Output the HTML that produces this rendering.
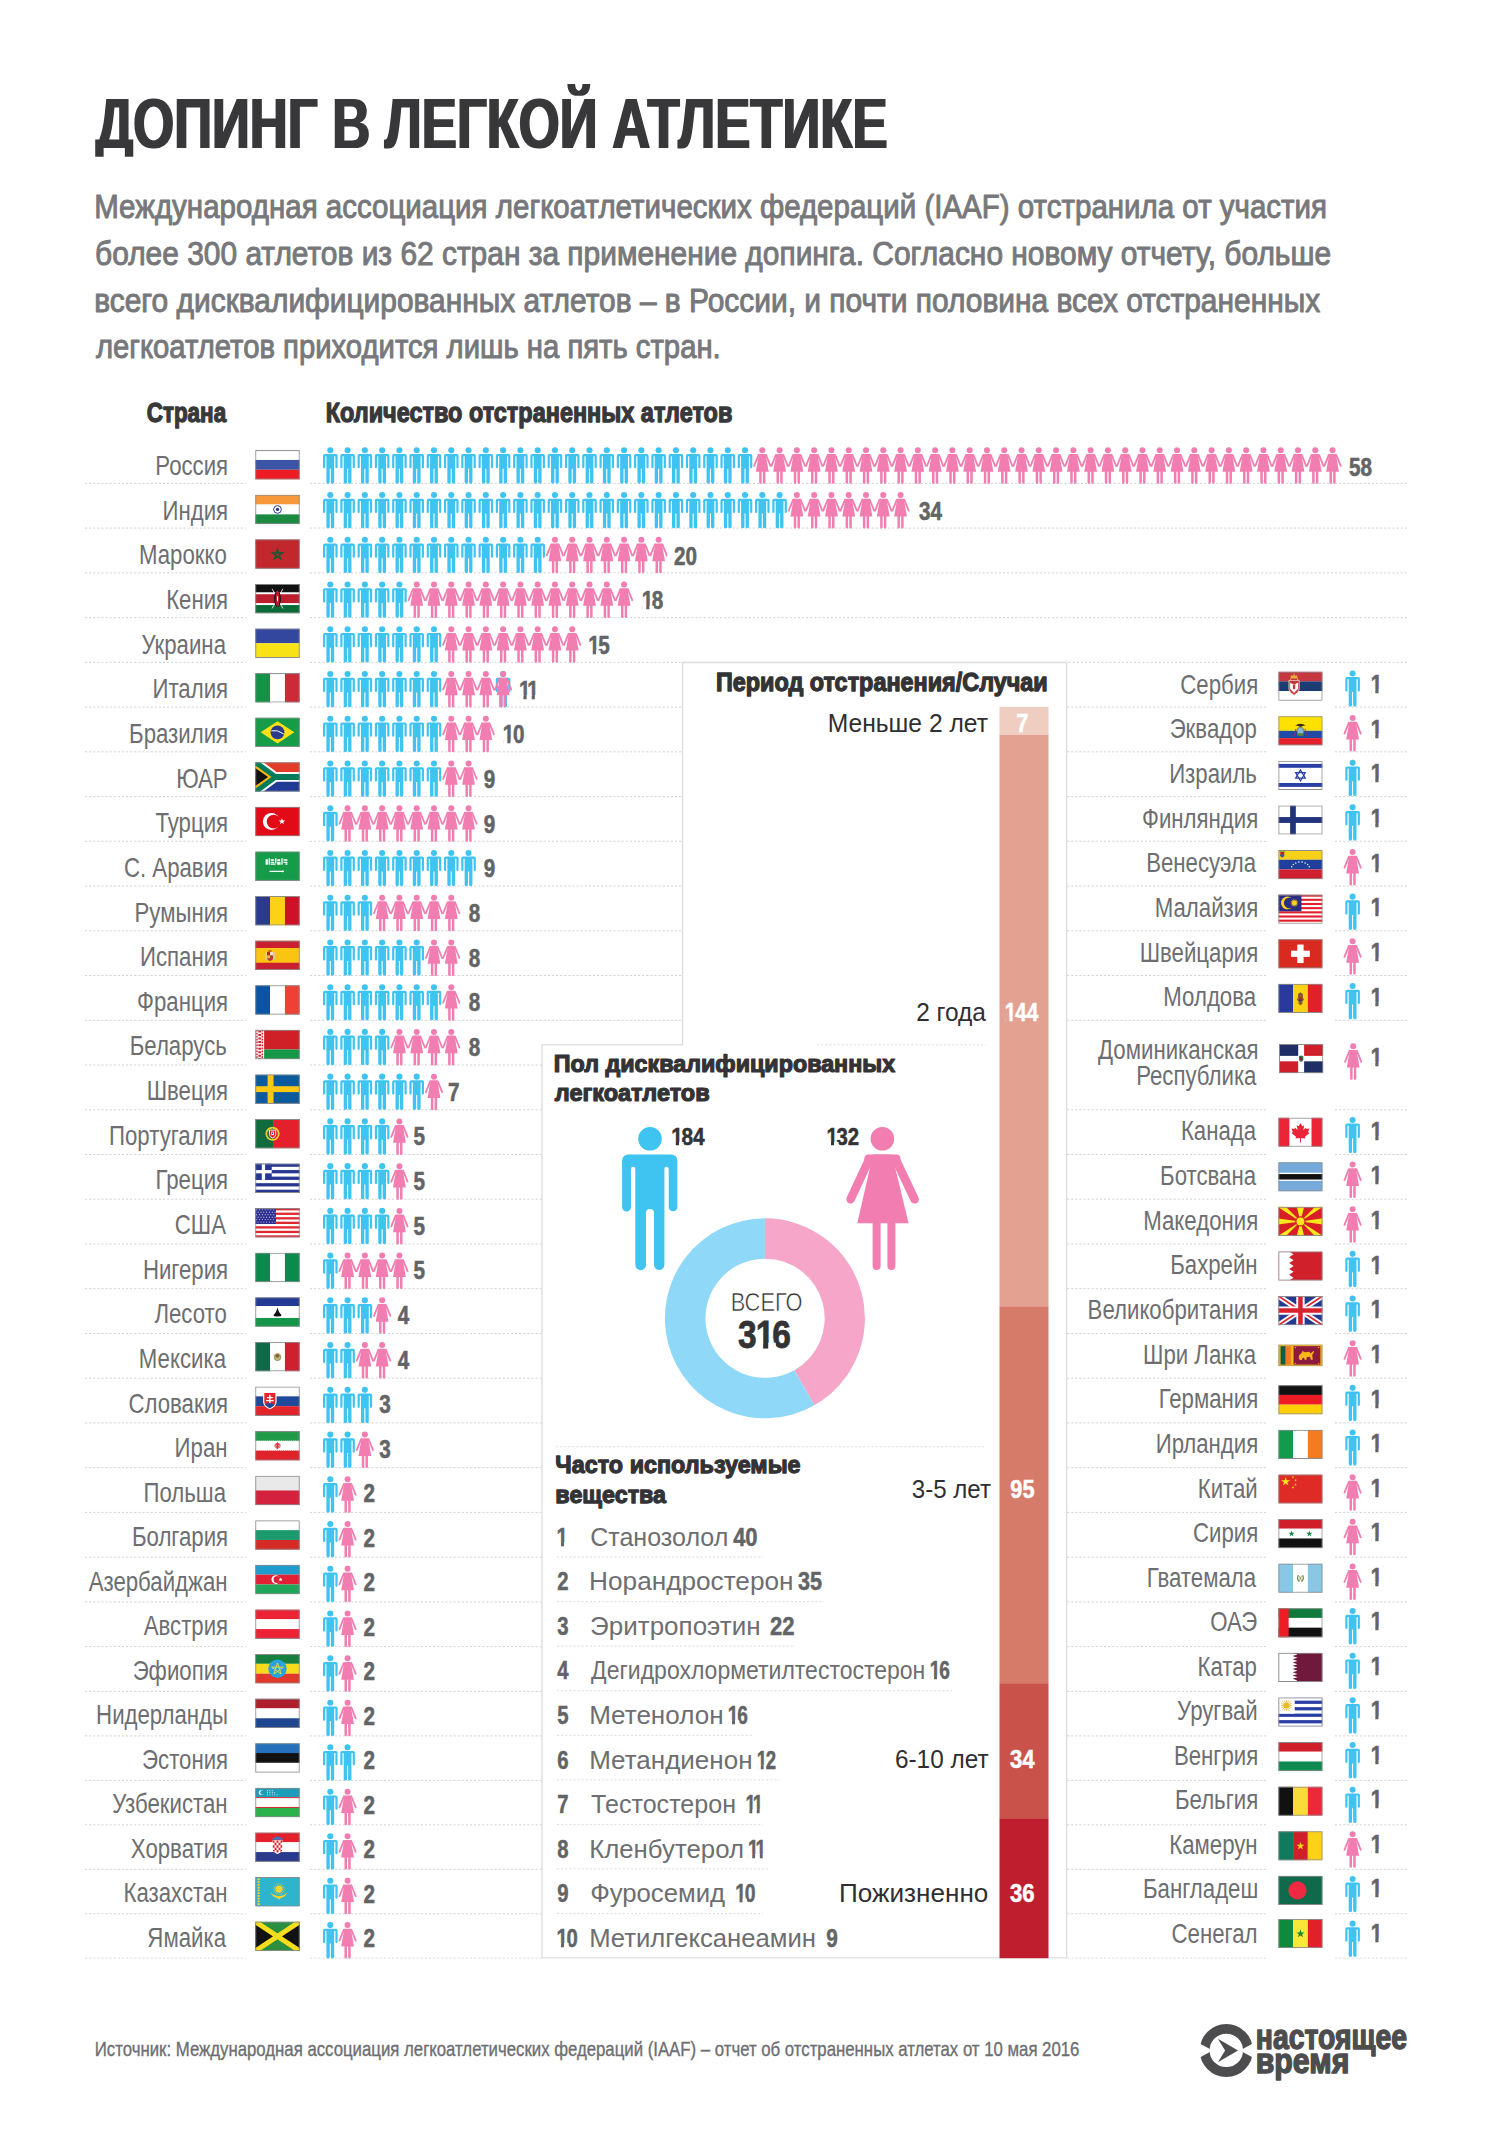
<!DOCTYPE html>
<html lang="ru"><head><meta charset="utf-8"><title>Допинг в легкой атлетике</title>
<style>html,body{margin:0;padding:0;background:#fff}svg{display:block}text{font-family:'Liberation Sans', sans-serif}</style></head>
<body><svg width="1493" height="2135" viewBox="0 0 1493 2135">
<defs><clipPath id="c0"><path clip-rule="evenodd" d="M-26.3 -31.6H78.9V10.5H-26.3ZM0.00 -3.68H5.05V1.32H0.00ZM9.02 -3.68H14.99V1.32H9.02Z"/></clipPath><clipPath id="c1"><path clip-rule="evenodd" d="M-26.3 -31.6H78.9V10.5H-26.3ZM0.00 -3.68H5.05V1.32H0.00ZM9.02 -3.68H14.99V1.32H9.02Z"/></clipPath><clipPath id="c2"><path clip-rule="evenodd" d="M-26.3 -31.6H78.9V10.5H-26.3ZM0.00 -3.68H5.05V1.32H0.00ZM9.02 -3.68H15.57V1.32H9.02ZM19.54 -3.68H26.04V1.32H19.54Z"/></clipPath><clipPath id="c3"><path clip-rule="evenodd" d="M-26.3 -31.6H78.9V10.5H-26.3ZM0.00 -3.68H5.05V1.32H0.00ZM9.02 -3.68H14.99V1.32H9.02Z"/></clipPath><clipPath id="c4"><path clip-rule="evenodd" d="M-25.8 -31.0H103.2V10.3H-25.8ZM0.00 -3.61H4.95V1.29H0.00ZM8.85 -3.61H14.71V1.29H8.85Z"/></clipPath><clipPath id="c5"><path clip-rule="evenodd" d="M-23.5 -28.2H94.0V9.4H-23.5ZM0.00 -3.29H4.51V1.18H0.00ZM8.06 -3.29H13.39V1.18H8.06Z"/></clipPath><clipPath id="c6"><path clip-rule="evenodd" d="M-23.5 -28.2H94.0V9.4H-23.5ZM0.00 -3.29H4.51V1.18H0.00ZM8.06 -3.29H13.39V1.18H8.06Z"/></clipPath><clipPath id="c7"><path clip-rule="evenodd" d="M-39.0 -46.8H156.0V15.6H-39.0ZM21.69 -5.46H29.18V1.95H21.69ZM35.07 -5.46H43.92V1.95H35.07Z"/></clipPath><clipPath id="c8"><path clip-rule="evenodd" d="M-26.0 -31.2H52.0V10.4H-26.0ZM0.00 -3.64H4.99V1.30H0.00ZM8.92 -3.64H15.34V1.30H8.92Z"/></clipPath><clipPath id="c9"><path clip-rule="evenodd" d="M-26.0 -31.2H78.0V10.4H-26.0ZM0.00 -3.64H4.99V1.30H0.00ZM8.92 -3.64H14.82V1.30H8.92Z"/></clipPath><clipPath id="c10"><path clip-rule="evenodd" d="M-26.0 -31.2H78.0V10.4H-26.0ZM0.00 -3.64H4.99V1.30H0.00ZM8.92 -3.64H12.74V1.30H8.92Z"/></clipPath><clipPath id="c11"><path clip-rule="evenodd" d="M-26.0 -31.2H78.0V10.4H-26.0ZM0.00 -3.64H4.99V1.30H0.00ZM8.92 -3.64H15.39V1.30H8.92ZM19.32 -3.64H25.74V1.30H19.32Z"/></clipPath><clipPath id="c12"><path clip-rule="evenodd" d="M-26.0 -31.2H78.0V10.4H-26.0ZM0.00 -3.64H4.99V1.30H0.00ZM8.92 -3.64H14.82V1.30H8.92Z"/></clipPath><clipPath id="c13"><path clip-rule="evenodd" d="M-26.3 -31.6H52.6V10.5H-26.3ZM0.00 -3.68H5.05V1.32H0.00ZM9.02 -3.68H15.52V1.32H9.02Z"/></clipPath></defs>
<clipPath id="tclip"><rect x="0" y="60" width="1493" height="96.8"/></clipPath><g clip-path="url(#tclip)">
<text transform="translate(95.80 148.10) scale(0.7572 1)" font-size="69.5" font-weight="bold" fill="#38383a" filter="url(#dil1)">ДОПИНГ В ЛЕГКОЙ АТЛЕТИКЕ</text>
</g>
<text transform="translate(94.19 218.30) scale(0.8729 1)" font-size="33.8" fill="#77787b" stroke="#77787b" stroke-width="1" stroke-linejoin="round">Международная ассоциация легкоатлетических федераций (IAAF) отстранила от участия</text>
<text transform="translate(95.06 265.00) scale(0.8850 1)" font-size="33.8" fill="#77787b" stroke="#77787b" stroke-width="1" stroke-linejoin="round">более 300 атлетов из 62 стран за применение допинга. Согласно новому отчету, больше</text>
<text transform="translate(94.17 311.70) scale(0.8856 1)" font-size="33.8" fill="#77787b" stroke="#77787b" stroke-width="1" stroke-linejoin="round">всего дисквалифицированных атлетов – в России, и почти половина всех отстраненных</text>
<text transform="translate(95.93 358.40) scale(0.8656 1)" font-size="33.8" fill="#77787b" stroke="#77787b" stroke-width="1" stroke-linejoin="round">легкоатлетов приходится лишь на пять стран.</text>
<text transform="translate(146.72 422.00) scale(0.8133 1)" font-size="27.6" font-weight="bold" fill="#38383a" stroke="#38383a" stroke-width="1.3" stroke-linejoin="round">Страна</text>
<text transform="translate(325.70 422.00) scale(0.8498 1)" font-size="27.6" font-weight="bold" fill="#38383a" stroke="#38383a" stroke-width="1.3" stroke-linejoin="round">Количество отстраненных атлетов</text>
<defs><filter id="dil1" x="-2%" y="-20%" width="104%" height="140%"><feMorphology operator="dilate" radius="1 0"/></filter><filter id="dil2" x="-2%" y="-20%" width="104%" height="140%"><feMorphology operator="dilate" radius="2 0"/></filter><g id="m" fill="#3fc4f1"><circle cx="0" cy="3.05" r="3.05"/><path d="M-7.3 8.4A1.7 1.7 0 0 1-5.6 6.7H5.6A1.7 1.7 0 0 1 7.3 8.4V20A1.1 1.1 0 0 1 5.1 20V8.9H3.9V34.7A1.675 1.675 0 0 1 .55 34.7V21.5H-.55V34.7A1.675 1.675 0 0 1-3.9 34.7V8.9H-5.1V20A1.1 1.1 0 0 1-7.3 20Z"/></g><g id="w" fill="#f27db0" stroke="#f27db0"><circle cx="0" cy="3.05" r="3" stroke="none"/><path d="M-3.7 7.6L-8.15 18.6M3.7 7.6L8.15 18.6" stroke-width="1.8" stroke-linecap="round" fill="none"/><path d="M-3.3 6.7H3.3L6.4 24.4H3.1V35.3A1.25 1.25 0 0 1 .6 35.3V24.4H-.6V35.3A1.25 1.25 0 0 1-3.1 35.3V24.4H-6.4Z" stroke="none"/></g></defs>
<path d="M85.0 483.4H246.0" stroke="#d2d3d5" stroke-width="1" stroke-dasharray="2.2 1.9"/>
<path d="M310.0 483.4H1408.5" stroke="#d2d3d5" stroke-width="1" stroke-dasharray="2.2 1.9"/>
<path d="M85.0 528.1H246.0" stroke="#d2d3d5" stroke-width="1" stroke-dasharray="2.2 1.9"/>
<path d="M310.0 528.1H1408.5" stroke="#d2d3d5" stroke-width="1" stroke-dasharray="2.2 1.9"/>
<path d="M85.0 572.9H246.0" stroke="#d2d3d5" stroke-width="1" stroke-dasharray="2.2 1.9"/>
<path d="M310.0 572.9H1408.5" stroke="#d2d3d5" stroke-width="1" stroke-dasharray="2.2 1.9"/>
<path d="M85.0 617.6H246.0" stroke="#d2d3d5" stroke-width="1" stroke-dasharray="2.2 1.9"/>
<path d="M310.0 617.6H1408.5" stroke="#d2d3d5" stroke-width="1" stroke-dasharray="2.2 1.9"/>
<path d="M85.0 662.4H246.0" stroke="#d2d3d5" stroke-width="1" stroke-dasharray="2.2 1.9"/>
<path d="M310.0 662.4H1408.5" stroke="#d2d3d5" stroke-width="1" stroke-dasharray="2.2 1.9"/>
<path d="M85.0 707.1H246.0" stroke="#d2d3d5" stroke-width="1" stroke-dasharray="2.2 1.9"/>
<path d="M310.0 707.1H682.0" stroke="#d2d3d5" stroke-width="1" stroke-dasharray="2.2 1.9"/>
<path d="M1067.0 707.1H1266.3" stroke="#d2d3d5" stroke-width="1" stroke-dasharray="2.2 1.9"/>
<path d="M1335.0 707.1H1408.5" stroke="#d2d3d5" stroke-width="1" stroke-dasharray="2.2 1.9"/>
<path d="M85.0 751.8H246.0" stroke="#d2d3d5" stroke-width="1" stroke-dasharray="2.2 1.9"/>
<path d="M310.0 751.8H682.0" stroke="#d2d3d5" stroke-width="1" stroke-dasharray="2.2 1.9"/>
<path d="M1067.0 751.8H1266.3" stroke="#d2d3d5" stroke-width="1" stroke-dasharray="2.2 1.9"/>
<path d="M1335.0 751.8H1408.5" stroke="#d2d3d5" stroke-width="1" stroke-dasharray="2.2 1.9"/>
<path d="M85.0 796.6H246.0" stroke="#d2d3d5" stroke-width="1" stroke-dasharray="2.2 1.9"/>
<path d="M310.0 796.6H682.0" stroke="#d2d3d5" stroke-width="1" stroke-dasharray="2.2 1.9"/>
<path d="M1067.0 796.6H1266.3" stroke="#d2d3d5" stroke-width="1" stroke-dasharray="2.2 1.9"/>
<path d="M1335.0 796.6H1408.5" stroke="#d2d3d5" stroke-width="1" stroke-dasharray="2.2 1.9"/>
<path d="M85.0 841.3H246.0" stroke="#d2d3d5" stroke-width="1" stroke-dasharray="2.2 1.9"/>
<path d="M310.0 841.3H682.0" stroke="#d2d3d5" stroke-width="1" stroke-dasharray="2.2 1.9"/>
<path d="M1067.0 841.3H1266.3" stroke="#d2d3d5" stroke-width="1" stroke-dasharray="2.2 1.9"/>
<path d="M1335.0 841.3H1408.5" stroke="#d2d3d5" stroke-width="1" stroke-dasharray="2.2 1.9"/>
<path d="M85.0 886.1H246.0" stroke="#d2d3d5" stroke-width="1" stroke-dasharray="2.2 1.9"/>
<path d="M310.0 886.1H682.0" stroke="#d2d3d5" stroke-width="1" stroke-dasharray="2.2 1.9"/>
<path d="M1067.0 886.1H1266.3" stroke="#d2d3d5" stroke-width="1" stroke-dasharray="2.2 1.9"/>
<path d="M1335.0 886.1H1408.5" stroke="#d2d3d5" stroke-width="1" stroke-dasharray="2.2 1.9"/>
<path d="M85.0 930.8H246.0" stroke="#d2d3d5" stroke-width="1" stroke-dasharray="2.2 1.9"/>
<path d="M310.0 930.8H682.0" stroke="#d2d3d5" stroke-width="1" stroke-dasharray="2.2 1.9"/>
<path d="M1067.0 930.8H1266.3" stroke="#d2d3d5" stroke-width="1" stroke-dasharray="2.2 1.9"/>
<path d="M1335.0 930.8H1408.5" stroke="#d2d3d5" stroke-width="1" stroke-dasharray="2.2 1.9"/>
<path d="M85.0 975.5H246.0" stroke="#d2d3d5" stroke-width="1" stroke-dasharray="2.2 1.9"/>
<path d="M310.0 975.5H682.0" stroke="#d2d3d5" stroke-width="1" stroke-dasharray="2.2 1.9"/>
<path d="M1067.0 975.5H1266.3" stroke="#d2d3d5" stroke-width="1" stroke-dasharray="2.2 1.9"/>
<path d="M1335.0 975.5H1408.5" stroke="#d2d3d5" stroke-width="1" stroke-dasharray="2.2 1.9"/>
<path d="M85.0 1020.3H246.0" stroke="#d2d3d5" stroke-width="1" stroke-dasharray="2.2 1.9"/>
<path d="M310.0 1020.3H682.0" stroke="#d2d3d5" stroke-width="1" stroke-dasharray="2.2 1.9"/>
<path d="M1067.0 1020.3H1266.3" stroke="#d2d3d5" stroke-width="1" stroke-dasharray="2.2 1.9"/>
<path d="M1335.0 1020.3H1408.5" stroke="#d2d3d5" stroke-width="1" stroke-dasharray="2.2 1.9"/>
<path d="M85.0 1065.0H246.0" stroke="#d2d3d5" stroke-width="1" stroke-dasharray="2.2 1.9"/>
<path d="M310.0 1065.0H541.5" stroke="#d2d3d5" stroke-width="1" stroke-dasharray="2.2 1.9"/>
<path d="M85.0 1109.8H246.0" stroke="#d2d3d5" stroke-width="1" stroke-dasharray="2.2 1.9"/>
<path d="M310.0 1109.8H541.5" stroke="#d2d3d5" stroke-width="1" stroke-dasharray="2.2 1.9"/>
<path d="M1067.0 1109.8H1266.3" stroke="#d2d3d5" stroke-width="1" stroke-dasharray="2.2 1.9"/>
<path d="M1335.0 1109.8H1408.5" stroke="#d2d3d5" stroke-width="1" stroke-dasharray="2.2 1.9"/>
<path d="M85.0 1154.5H246.0" stroke="#d2d3d5" stroke-width="1" stroke-dasharray="2.2 1.9"/>
<path d="M310.0 1154.5H541.5" stroke="#d2d3d5" stroke-width="1" stroke-dasharray="2.2 1.9"/>
<path d="M1067.0 1154.5H1266.3" stroke="#d2d3d5" stroke-width="1" stroke-dasharray="2.2 1.9"/>
<path d="M1335.0 1154.5H1408.5" stroke="#d2d3d5" stroke-width="1" stroke-dasharray="2.2 1.9"/>
<path d="M85.0 1199.2H246.0" stroke="#d2d3d5" stroke-width="1" stroke-dasharray="2.2 1.9"/>
<path d="M310.0 1199.2H541.5" stroke="#d2d3d5" stroke-width="1" stroke-dasharray="2.2 1.9"/>
<path d="M1067.0 1199.2H1266.3" stroke="#d2d3d5" stroke-width="1" stroke-dasharray="2.2 1.9"/>
<path d="M1335.0 1199.2H1408.5" stroke="#d2d3d5" stroke-width="1" stroke-dasharray="2.2 1.9"/>
<path d="M85.0 1244.0H246.0" stroke="#d2d3d5" stroke-width="1" stroke-dasharray="2.2 1.9"/>
<path d="M310.0 1244.0H541.5" stroke="#d2d3d5" stroke-width="1" stroke-dasharray="2.2 1.9"/>
<path d="M1067.0 1244.0H1266.3" stroke="#d2d3d5" stroke-width="1" stroke-dasharray="2.2 1.9"/>
<path d="M1335.0 1244.0H1408.5" stroke="#d2d3d5" stroke-width="1" stroke-dasharray="2.2 1.9"/>
<path d="M85.0 1288.7H246.0" stroke="#d2d3d5" stroke-width="1" stroke-dasharray="2.2 1.9"/>
<path d="M310.0 1288.7H541.5" stroke="#d2d3d5" stroke-width="1" stroke-dasharray="2.2 1.9"/>
<path d="M1067.0 1288.7H1266.3" stroke="#d2d3d5" stroke-width="1" stroke-dasharray="2.2 1.9"/>
<path d="M1335.0 1288.7H1408.5" stroke="#d2d3d5" stroke-width="1" stroke-dasharray="2.2 1.9"/>
<path d="M85.0 1333.5H246.0" stroke="#d2d3d5" stroke-width="1" stroke-dasharray="2.2 1.9"/>
<path d="M310.0 1333.5H541.5" stroke="#d2d3d5" stroke-width="1" stroke-dasharray="2.2 1.9"/>
<path d="M1067.0 1333.5H1266.3" stroke="#d2d3d5" stroke-width="1" stroke-dasharray="2.2 1.9"/>
<path d="M1335.0 1333.5H1408.5" stroke="#d2d3d5" stroke-width="1" stroke-dasharray="2.2 1.9"/>
<path d="M85.0 1378.2H246.0" stroke="#d2d3d5" stroke-width="1" stroke-dasharray="2.2 1.9"/>
<path d="M310.0 1378.2H541.5" stroke="#d2d3d5" stroke-width="1" stroke-dasharray="2.2 1.9"/>
<path d="M1067.0 1378.2H1266.3" stroke="#d2d3d5" stroke-width="1" stroke-dasharray="2.2 1.9"/>
<path d="M1335.0 1378.2H1408.5" stroke="#d2d3d5" stroke-width="1" stroke-dasharray="2.2 1.9"/>
<path d="M85.0 1422.9H246.0" stroke="#d2d3d5" stroke-width="1" stroke-dasharray="2.2 1.9"/>
<path d="M310.0 1422.9H541.5" stroke="#d2d3d5" stroke-width="1" stroke-dasharray="2.2 1.9"/>
<path d="M1067.0 1422.9H1266.3" stroke="#d2d3d5" stroke-width="1" stroke-dasharray="2.2 1.9"/>
<path d="M1335.0 1422.9H1408.5" stroke="#d2d3d5" stroke-width="1" stroke-dasharray="2.2 1.9"/>
<path d="M85.0 1467.7H246.0" stroke="#d2d3d5" stroke-width="1" stroke-dasharray="2.2 1.9"/>
<path d="M310.0 1467.7H541.5" stroke="#d2d3d5" stroke-width="1" stroke-dasharray="2.2 1.9"/>
<path d="M1067.0 1467.7H1266.3" stroke="#d2d3d5" stroke-width="1" stroke-dasharray="2.2 1.9"/>
<path d="M1335.0 1467.7H1408.5" stroke="#d2d3d5" stroke-width="1" stroke-dasharray="2.2 1.9"/>
<path d="M85.0 1512.4H246.0" stroke="#d2d3d5" stroke-width="1" stroke-dasharray="2.2 1.9"/>
<path d="M310.0 1512.4H541.5" stroke="#d2d3d5" stroke-width="1" stroke-dasharray="2.2 1.9"/>
<path d="M1067.0 1512.4H1266.3" stroke="#d2d3d5" stroke-width="1" stroke-dasharray="2.2 1.9"/>
<path d="M1335.0 1512.4H1408.5" stroke="#d2d3d5" stroke-width="1" stroke-dasharray="2.2 1.9"/>
<path d="M85.0 1557.2H246.0" stroke="#d2d3d5" stroke-width="1" stroke-dasharray="2.2 1.9"/>
<path d="M310.0 1557.2H541.5" stroke="#d2d3d5" stroke-width="1" stroke-dasharray="2.2 1.9"/>
<path d="M1067.0 1557.2H1266.3" stroke="#d2d3d5" stroke-width="1" stroke-dasharray="2.2 1.9"/>
<path d="M1335.0 1557.2H1408.5" stroke="#d2d3d5" stroke-width="1" stroke-dasharray="2.2 1.9"/>
<path d="M85.0 1601.9H246.0" stroke="#d2d3d5" stroke-width="1" stroke-dasharray="2.2 1.9"/>
<path d="M310.0 1601.9H541.5" stroke="#d2d3d5" stroke-width="1" stroke-dasharray="2.2 1.9"/>
<path d="M1067.0 1601.9H1266.3" stroke="#d2d3d5" stroke-width="1" stroke-dasharray="2.2 1.9"/>
<path d="M1335.0 1601.9H1408.5" stroke="#d2d3d5" stroke-width="1" stroke-dasharray="2.2 1.9"/>
<path d="M85.0 1646.6H246.0" stroke="#d2d3d5" stroke-width="1" stroke-dasharray="2.2 1.9"/>
<path d="M310.0 1646.6H541.5" stroke="#d2d3d5" stroke-width="1" stroke-dasharray="2.2 1.9"/>
<path d="M1067.0 1646.6H1266.3" stroke="#d2d3d5" stroke-width="1" stroke-dasharray="2.2 1.9"/>
<path d="M1335.0 1646.6H1408.5" stroke="#d2d3d5" stroke-width="1" stroke-dasharray="2.2 1.9"/>
<path d="M85.0 1691.4H246.0" stroke="#d2d3d5" stroke-width="1" stroke-dasharray="2.2 1.9"/>
<path d="M310.0 1691.4H541.5" stroke="#d2d3d5" stroke-width="1" stroke-dasharray="2.2 1.9"/>
<path d="M1067.0 1691.4H1266.3" stroke="#d2d3d5" stroke-width="1" stroke-dasharray="2.2 1.9"/>
<path d="M1335.0 1691.4H1408.5" stroke="#d2d3d5" stroke-width="1" stroke-dasharray="2.2 1.9"/>
<path d="M85.0 1735.9H246.0" stroke="#d2d3d5" stroke-width="1" stroke-dasharray="2.2 1.9"/>
<path d="M310.0 1735.9H541.5" stroke="#d2d3d5" stroke-width="1" stroke-dasharray="2.2 1.9"/>
<path d="M1067.0 1735.9H1266.3" stroke="#d2d3d5" stroke-width="1" stroke-dasharray="2.2 1.9"/>
<path d="M1335.0 1735.9H1408.5" stroke="#d2d3d5" stroke-width="1" stroke-dasharray="2.2 1.9"/>
<path d="M85.0 1780.4H246.0" stroke="#d2d3d5" stroke-width="1" stroke-dasharray="2.2 1.9"/>
<path d="M310.0 1780.4H541.5" stroke="#d2d3d5" stroke-width="1" stroke-dasharray="2.2 1.9"/>
<path d="M1067.0 1780.4H1266.3" stroke="#d2d3d5" stroke-width="1" stroke-dasharray="2.2 1.9"/>
<path d="M1335.0 1780.4H1408.5" stroke="#d2d3d5" stroke-width="1" stroke-dasharray="2.2 1.9"/>
<path d="M85.0 1824.8H246.0" stroke="#d2d3d5" stroke-width="1" stroke-dasharray="2.2 1.9"/>
<path d="M310.0 1824.8H541.5" stroke="#d2d3d5" stroke-width="1" stroke-dasharray="2.2 1.9"/>
<path d="M1067.0 1824.8H1266.3" stroke="#d2d3d5" stroke-width="1" stroke-dasharray="2.2 1.9"/>
<path d="M1335.0 1824.8H1408.5" stroke="#d2d3d5" stroke-width="1" stroke-dasharray="2.2 1.9"/>
<path d="M85.0 1869.3H246.0" stroke="#d2d3d5" stroke-width="1" stroke-dasharray="2.2 1.9"/>
<path d="M310.0 1869.3H541.5" stroke="#d2d3d5" stroke-width="1" stroke-dasharray="2.2 1.9"/>
<path d="M1067.0 1869.3H1266.3" stroke="#d2d3d5" stroke-width="1" stroke-dasharray="2.2 1.9"/>
<path d="M1335.0 1869.3H1408.5" stroke="#d2d3d5" stroke-width="1" stroke-dasharray="2.2 1.9"/>
<path d="M85.0 1913.8H246.0" stroke="#d2d3d5" stroke-width="1" stroke-dasharray="2.2 1.9"/>
<path d="M310.0 1913.8H541.5" stroke="#d2d3d5" stroke-width="1" stroke-dasharray="2.2 1.9"/>
<path d="M1067.0 1913.8H1266.3" stroke="#d2d3d5" stroke-width="1" stroke-dasharray="2.2 1.9"/>
<path d="M1335.0 1913.8H1408.5" stroke="#d2d3d5" stroke-width="1" stroke-dasharray="2.2 1.9"/>
<path d="M85.0 1958.2H246.0" stroke="#dcddde" stroke-width="1" stroke-dasharray="2.2 1.9"/>
<path d="M310.0 1958.2H541.5" stroke="#dcddde" stroke-width="1" stroke-dasharray="2.2 1.9"/>
<path d="M1067.0 1958.2H1266.3" stroke="#dcddde" stroke-width="1" stroke-dasharray="2.2 1.9"/>
<path d="M1335.0 1958.2H1408.5" stroke="#dcddde" stroke-width="1" stroke-dasharray="2.2 1.9"/>
<text transform="translate(155.29 475.00) scale(0.8140 1)" font-size="27.3" fill="#6d6e71">Россия</text>
<svg x="255.2" y="450.1" width="44.6" height="29.5" viewBox="0 0 45 30" preserveAspectRatio="none"><rect x="0" y="0" width="45" height="10" fill="#fff"/><rect x="0" y="10" width="45" height="10" fill="#3b54a5"/><rect x="0" y="20" width="45" height="10" fill="#ed1c24"/><rect x=".5" y=".5" width="44" height="29" fill="none" stroke="#8c8c8e" stroke-width="1"/></svg>
<use href="#m" x="330.30" y="447.25"/><use href="#m" x="347.58" y="447.25"/><use href="#m" x="364.86" y="447.25"/><use href="#m" x="382.14" y="447.25"/><use href="#m" x="399.42" y="447.25"/><use href="#m" x="416.70" y="447.25"/><use href="#m" x="433.98" y="447.25"/><use href="#m" x="451.26" y="447.25"/><use href="#m" x="468.54" y="447.25"/><use href="#m" x="485.82" y="447.25"/><use href="#m" x="503.10" y="447.25"/><use href="#m" x="520.38" y="447.25"/><use href="#m" x="537.66" y="447.25"/><use href="#m" x="554.94" y="447.25"/><use href="#m" x="572.22" y="447.25"/><use href="#m" x="589.50" y="447.25"/><use href="#m" x="606.78" y="447.25"/><use href="#m" x="624.06" y="447.25"/><use href="#m" x="641.34" y="447.25"/><use href="#m" x="658.62" y="447.25"/><use href="#m" x="675.90" y="447.25"/><use href="#m" x="693.18" y="447.25"/><use href="#m" x="710.46" y="447.25"/><use href="#m" x="727.74" y="447.25"/><use href="#m" x="745.02" y="447.25"/><use href="#w" x="762.30" y="447.25"/><use href="#w" x="779.58" y="447.25"/><use href="#w" x="796.86" y="447.25"/><use href="#w" x="814.14" y="447.25"/><use href="#w" x="831.42" y="447.25"/><use href="#w" x="848.70" y="447.25"/><use href="#w" x="865.98" y="447.25"/><use href="#w" x="883.26" y="447.25"/><use href="#w" x="900.54" y="447.25"/><use href="#w" x="917.82" y="447.25"/><use href="#w" x="935.10" y="447.25"/><use href="#w" x="952.38" y="447.25"/><use href="#w" x="969.66" y="447.25"/><use href="#w" x="986.94" y="447.25"/><use href="#w" x="1004.22" y="447.25"/><use href="#w" x="1021.50" y="447.25"/><use href="#w" x="1038.78" y="447.25"/><use href="#w" x="1056.06" y="447.25"/><use href="#w" x="1073.34" y="447.25"/><use href="#w" x="1090.62" y="447.25"/><use href="#w" x="1107.90" y="447.25"/><use href="#w" x="1125.18" y="447.25"/><use href="#w" x="1142.46" y="447.25"/><use href="#w" x="1159.74" y="447.25"/><use href="#w" x="1177.02" y="447.25"/><use href="#w" x="1194.30" y="447.25"/><use href="#w" x="1211.58" y="447.25"/><use href="#w" x="1228.86" y="447.25"/><use href="#w" x="1246.14" y="447.25"/><use href="#w" x="1263.42" y="447.25"/><use href="#w" x="1280.70" y="447.25"/><use href="#w" x="1297.98" y="447.25"/><use href="#w" x="1315.26" y="447.25"/><use href="#w" x="1332.54" y="447.25"/>
<text transform="translate(1349.11 475.50) scale(0.7850 1)" font-size="26.3" font-weight="bold" fill="#636466" stroke="#636466" stroke-width="0.6">58</text>
<text transform="translate(162.50 519.65) scale(0.8140 1)" font-size="27.3" fill="#6d6e71">Индия</text>
<svg x="255.2" y="494.7" width="44.6" height="29.5" viewBox="0 0 45 30" preserveAspectRatio="none"><rect x="0" y="0" width="45" height="10" fill="#f7993b"/><rect x="0" y="10" width="45" height="10" fill="#fff"/><rect x="0" y="20" width="45" height="10" fill="#1a8a43"/><circle cx="22.5" cy="15" r="3.9" fill="none" stroke="#2b3990" stroke-width="1"/><circle cx="22.5" cy="15" r="1.7" fill="#2b3990"/><rect x=".5" y=".5" width="44" height="29" fill="none" stroke="#8c8c8e" stroke-width="1"/></svg>
<use href="#m" x="330.30" y="491.99"/><use href="#m" x="347.58" y="491.99"/><use href="#m" x="364.86" y="491.99"/><use href="#m" x="382.14" y="491.99"/><use href="#m" x="399.42" y="491.99"/><use href="#m" x="416.70" y="491.99"/><use href="#m" x="433.98" y="491.99"/><use href="#m" x="451.26" y="491.99"/><use href="#m" x="468.54" y="491.99"/><use href="#m" x="485.82" y="491.99"/><use href="#m" x="503.10" y="491.99"/><use href="#m" x="520.38" y="491.99"/><use href="#m" x="537.66" y="491.99"/><use href="#m" x="554.94" y="491.99"/><use href="#m" x="572.22" y="491.99"/><use href="#m" x="589.50" y="491.99"/><use href="#m" x="606.78" y="491.99"/><use href="#m" x="624.06" y="491.99"/><use href="#m" x="641.34" y="491.99"/><use href="#m" x="658.62" y="491.99"/><use href="#m" x="675.90" y="491.99"/><use href="#m" x="693.18" y="491.99"/><use href="#m" x="710.46" y="491.99"/><use href="#m" x="727.74" y="491.99"/><use href="#m" x="745.02" y="491.99"/><use href="#m" x="762.30" y="491.99"/><use href="#m" x="779.58" y="491.99"/><use href="#w" x="796.86" y="491.99"/><use href="#w" x="814.14" y="491.99"/><use href="#w" x="831.42" y="491.99"/><use href="#w" x="848.70" y="491.99"/><use href="#w" x="865.98" y="491.99"/><use href="#w" x="883.26" y="491.99"/><use href="#w" x="900.54" y="491.99"/>
<text transform="translate(919.11 520.15) scale(0.7850 1)" font-size="26.3" font-weight="bold" fill="#636466" stroke="#636466" stroke-width="0.6">34</text>
<text transform="translate(138.97 564.30) scale(0.8140 1)" font-size="27.3" fill="#6d6e71">Марокко</text>
<svg x="255.2" y="539.3" width="44.6" height="29.5" viewBox="0 0 45 30" preserveAspectRatio="none"><rect x="0" y="0" width="45" height="30" fill="#c1272d"/><polygon points="22.5,9.9 25.79,20.03 17.17,13.77 27.83,13.77 19.21,20.03" fill="none" stroke="#0b5b30" stroke-width="1.1"/><rect x=".5" y=".5" width="44" height="29" fill="none" stroke="#8c8c8e" stroke-width="1"/></svg>
<use href="#m" x="330.30" y="536.73"/><use href="#m" x="347.58" y="536.73"/><use href="#m" x="364.86" y="536.73"/><use href="#m" x="382.14" y="536.73"/><use href="#m" x="399.42" y="536.73"/><use href="#m" x="416.70" y="536.73"/><use href="#m" x="433.98" y="536.73"/><use href="#m" x="451.26" y="536.73"/><use href="#m" x="468.54" y="536.73"/><use href="#m" x="485.82" y="536.73"/><use href="#m" x="503.10" y="536.73"/><use href="#m" x="520.38" y="536.73"/><use href="#m" x="537.66" y="536.73"/><use href="#w" x="554.94" y="536.73"/><use href="#w" x="572.22" y="536.73"/><use href="#w" x="589.50" y="536.73"/><use href="#w" x="606.78" y="536.73"/><use href="#w" x="624.06" y="536.73"/><use href="#w" x="641.34" y="536.73"/><use href="#w" x="658.62" y="536.73"/>
<text transform="translate(674.01 564.80) scale(0.7850 1)" font-size="26.3" font-weight="bold" fill="#636466" stroke="#636466" stroke-width="0.6">20</text>
<text transform="translate(166.13 608.95) scale(0.8140 1)" font-size="27.3" fill="#6d6e71">Кения</text>
<svg x="255.2" y="583.9" width="44.6" height="29.5" viewBox="0 0 45 30" preserveAspectRatio="none"><rect x="0" y="0" width="45" height="30" fill="#fff"/><rect x="0" y="0" width="45" height="8.5" fill="#111"/><rect x="0" y="10.5" width="45" height="9" fill="#bb1f2d"/><rect x="0" y="21.5" width="45" height="8.5" fill="#0b6b37"/><path d="M17 5 L28 25 M28 5 L17 25" stroke="#fff" stroke-width=".8"/><ellipse cx="22.5" cy="15" rx="3.4" ry="8.6" fill="#111"/><ellipse cx="22.5" cy="15" rx="2" ry="8.4" fill="#bb1f2d"/><ellipse cx="22.5" cy="15" rx=".6" ry="3" fill="#fff"/><rect x=".5" y=".5" width="44" height="29" fill="none" stroke="#8c8c8e" stroke-width="1"/></svg>
<use href="#m" x="330.30" y="581.47"/><use href="#m" x="347.58" y="581.47"/><use href="#m" x="364.86" y="581.47"/><use href="#m" x="382.14" y="581.47"/><use href="#m" x="399.42" y="581.47"/><use href="#w" x="416.70" y="581.47"/><use href="#w" x="433.98" y="581.47"/><use href="#w" x="451.26" y="581.47"/><use href="#w" x="468.54" y="581.47"/><use href="#w" x="485.82" y="581.47"/><use href="#w" x="503.10" y="581.47"/><use href="#w" x="520.38" y="581.47"/><use href="#w" x="537.66" y="581.47"/><use href="#w" x="554.94" y="581.47"/><use href="#w" x="572.22" y="581.47"/><use href="#w" x="589.50" y="581.47"/><use href="#w" x="606.78" y="581.47"/><use href="#w" x="624.06" y="581.47"/>
<text transform="translate(642.31 609.45) scale(0.7850 1)" font-size="26.3" font-weight="bold" fill="#636466" stroke="#636466" stroke-width="0.6" clip-path="url(#c0)"><tspan dx="-0.79">1</tspan><tspan dx="-1.74">8</tspan></text>
<text transform="translate(141.44 653.60) scale(0.8140 1)" font-size="27.3" fill="#6d6e71">Украина</text>
<svg x="255.2" y="628.5" width="44.6" height="29.5" viewBox="0 0 45 30" preserveAspectRatio="none"><rect x="0" y="0" width="45" height="15" fill="#33479e"/><rect x="0" y="15" width="45" height="15" fill="#f6e215"/><rect x=".5" y=".5" width="44" height="29" fill="none" stroke="#8c8c8e" stroke-width="1"/></svg>
<use href="#m" x="330.30" y="626.21"/><use href="#m" x="347.58" y="626.21"/><use href="#m" x="364.86" y="626.21"/><use href="#m" x="382.14" y="626.21"/><use href="#m" x="399.42" y="626.21"/><use href="#m" x="416.70" y="626.21"/><use href="#m" x="433.98" y="626.21"/><use href="#w" x="451.26" y="626.21"/><use href="#w" x="468.54" y="626.21"/><use href="#w" x="485.82" y="626.21"/><use href="#w" x="503.10" y="626.21"/><use href="#w" x="520.38" y="626.21"/><use href="#w" x="537.66" y="626.21"/><use href="#w" x="554.94" y="626.21"/><use href="#w" x="572.22" y="626.21"/>
<text transform="translate(588.81 654.10) scale(0.7850 1)" font-size="26.3" font-weight="bold" fill="#636466" stroke="#636466" stroke-width="0.6" clip-path="url(#c1)"><tspan dx="-0.79">1</tspan><tspan dx="-1.74">5</tspan></text>
<text transform="translate(152.49 698.25) scale(0.8140 1)" font-size="27.3" fill="#6d6e71">Италия</text>
<svg x="255.2" y="673.1" width="44.6" height="29.5" viewBox="0 0 45 30" preserveAspectRatio="none"><rect x="0" y="0" width="15" height="30" fill="#139347"/><rect x="15" y="0" width="15" height="30" fill="#fff"/><rect x="30" y="0" width="15" height="30" fill="#cd2a37"/><rect x=".5" y=".5" width="44" height="29" fill="none" stroke="#8c8c8e" stroke-width="1"/></svg>
<use href="#m" x="330.30" y="670.95"/><use href="#m" x="347.58" y="670.95"/><use href="#m" x="364.86" y="670.95"/><use href="#m" x="382.14" y="670.95"/><use href="#m" x="399.42" y="670.95"/><use href="#m" x="416.70" y="670.95"/><use href="#m" x="433.98" y="670.95"/><use href="#m" x="503.10" y="670.95"/><use href="#w" x="451.26" y="670.95"/><use href="#w" x="468.54" y="670.95"/><use href="#w" x="485.82" y="670.95"/><use href="#w" x="503.10" y="670.95"/>
<text transform="translate(519.51 698.75) scale(0.7850 1)" font-size="26.3" font-weight="bold" fill="#636466" stroke="#636466" stroke-width="0.6" clip-path="url(#c2)"><tspan dx="-0.79">1</tspan><tspan dx="-4.11">1</tspan></text>
<text transform="translate(129.09 742.90) scale(0.8140 1)" font-size="27.3" fill="#6d6e71">Бразилия</text>
<svg x="255.2" y="717.6" width="44.6" height="29.5" viewBox="0 0 45 30" preserveAspectRatio="none"><rect x="0" y="0" width="45" height="30" fill="#169b49"/><polygon points="22.5,3.6 39.5,15 22.5,26.4 5.5,15" fill="#f8e015"/><circle cx="22.5" cy="15" r="7" fill="#2a3a8c"/><path d="M16.3 13.4 Q22.5 12 28.7 16.6" stroke="#fff" stroke-width="1" fill="none"/><rect x=".5" y=".5" width="44" height="29" fill="none" stroke="#8c8c8e" stroke-width="1"/></svg>
<use href="#m" x="330.30" y="715.69"/><use href="#m" x="347.58" y="715.69"/><use href="#m" x="364.86" y="715.69"/><use href="#m" x="382.14" y="715.69"/><use href="#m" x="399.42" y="715.69"/><use href="#m" x="416.70" y="715.69"/><use href="#m" x="433.98" y="715.69"/><use href="#w" x="451.26" y="715.69"/><use href="#w" x="468.54" y="715.69"/><use href="#w" x="485.82" y="715.69"/>
<text transform="translate(503.41 743.40) scale(0.7850 1)" font-size="26.3" font-weight="bold" fill="#636466" stroke="#636466" stroke-width="0.6" clip-path="url(#c3)"><tspan dx="-0.79">1</tspan><tspan dx="-1.74">0</tspan></text>
<text transform="translate(176.33 787.55) scale(0.8140 1)" font-size="27.3" fill="#6d6e71">ЮАР</text>
<svg x="255.2" y="762.2" width="44.6" height="29.5" viewBox="0 0 45 30" preserveAspectRatio="none"><rect x="0" y="0" width="45" height="15" fill="#e23d28"/><rect x="0" y="15" width="45" height="15" fill="#1e3a94"/><path d="M-2,-1.3 L20,15 L-2,31.3 M20,15 H46" stroke="#fff" stroke-width="10" fill="none"/><path d="M-2,-1.3 L20,15 L-2,31.3 M20,15 H46" stroke="#007c59" stroke-width="6" fill="none"/><polygon points="0,3 16.5,15 0,27" fill="#fcb514"/><polygon points="0,5.8 13,15 0,24.2" fill="#111"/><rect x=".5" y=".5" width="44" height="29" fill="none" stroke="#8c8c8e" stroke-width="1"/></svg>
<use href="#m" x="330.30" y="760.43"/><use href="#m" x="347.58" y="760.43"/><use href="#m" x="364.86" y="760.43"/><use href="#m" x="382.14" y="760.43"/><use href="#m" x="399.42" y="760.43"/><use href="#m" x="416.70" y="760.43"/><use href="#m" x="433.98" y="760.43"/><use href="#w" x="451.26" y="760.43"/><use href="#w" x="468.54" y="760.43"/>
<text transform="translate(483.81 788.05) scale(0.7850 1)" font-size="26.3" font-weight="bold" fill="#636466" stroke="#636466" stroke-width="0.6">9</text>
<text transform="translate(155.44 832.20) scale(0.8140 1)" font-size="27.3" fill="#6d6e71">Турция</text>
<svg x="255.2" y="806.8" width="44.6" height="29.5" viewBox="0 0 45 30" preserveAspectRatio="none"><rect x="0" y="0" width="45" height="30" fill="#e30a17"/><circle cx="16.3" cy="15" r="8.6" fill="#fff"/><circle cx="18.6" cy="15" r="7" fill="#e30a17"/><polygon points="30.33,13.92 28.27,15.41 29.06,17.83 27,16.34 24.94,17.83 25.73,15.41 23.67,13.92 26.21,13.92 27,11.5 27.79,13.92" fill="#fff"/><rect x=".5" y=".5" width="44" height="29" fill="none" stroke="#8c8c8e" stroke-width="1"/></svg>
<use href="#m" x="330.30" y="805.17"/><use href="#w" x="347.58" y="805.17"/><use href="#w" x="364.86" y="805.17"/><use href="#w" x="382.14" y="805.17"/><use href="#w" x="399.42" y="805.17"/><use href="#w" x="416.70" y="805.17"/><use href="#w" x="433.98" y="805.17"/><use href="#w" x="451.26" y="805.17"/><use href="#w" x="468.54" y="805.17"/>
<text transform="translate(483.81 832.70) scale(0.7850 1)" font-size="26.3" font-weight="bold" fill="#636466" stroke="#636466" stroke-width="0.6">9</text>
<text transform="translate(123.97 876.85) scale(0.8140 1)" font-size="27.3" fill="#6d6e71">С. Аравия</text>
<svg x="255.2" y="851.4" width="44.6" height="29.5" viewBox="0 0 45 30" preserveAspectRatio="none"><rect x="0" y="0" width="45" height="30" fill="#169b48"/><path d="M10.5 8h2.2v5.5h-2.2zM13.5 7h1.3v6.5h-1.3zM15.6 8h3.6v1.6h-3.6zM15.6 10.4h3.6v1.4h-3.6zM15.6 12.4h5v1.3h-5zM20 7h1.4v5h-1.4zM22.2 8h3v2h-3zM22.2 10.8h3.4v2.8h-3.4zM26.4 7h1.3v6.5h-1.3zM28.5 8h4v1.6h-4zM28.5 10.4h4v1.5h-4zM30.5 12h2v1.6h-2z" fill="#fff"/><path d="M14.5 20.3H29" stroke="#fff" stroke-width="1.2"/><path d="M27.5 19.3v2" stroke="#fff" stroke-width=".8"/><rect x=".5" y=".5" width="44" height="29" fill="none" stroke="#8c8c8e" stroke-width="1"/></svg>
<use href="#m" x="330.30" y="849.91"/><use href="#m" x="347.58" y="849.91"/><use href="#m" x="364.86" y="849.91"/><use href="#m" x="382.14" y="849.91"/><use href="#m" x="399.42" y="849.91"/><use href="#m" x="416.70" y="849.91"/><use href="#m" x="433.98" y="849.91"/><use href="#m" x="451.26" y="849.91"/><use href="#m" x="468.54" y="849.91"/>
<text transform="translate(483.81 877.35) scale(0.7850 1)" font-size="26.3" font-weight="bold" fill="#636466" stroke="#636466" stroke-width="0.6">9</text>
<text transform="translate(134.51 921.50) scale(0.8140 1)" font-size="27.3" fill="#6d6e71">Румыния</text>
<svg x="255.2" y="896.0" width="44.6" height="29.5" viewBox="0 0 45 30" preserveAspectRatio="none"><rect x="0" y="0" width="15" height="30" fill="#2b3a8c"/><rect x="15" y="0" width="15" height="30" fill="#fcd116"/><rect x="30" y="0" width="15" height="30" fill="#ce1126"/><rect x=".5" y=".5" width="44" height="29" fill="none" stroke="#8c8c8e" stroke-width="1"/></svg>
<use href="#m" x="330.30" y="894.65"/><use href="#m" x="347.58" y="894.65"/><use href="#m" x="364.86" y="894.65"/><use href="#w" x="382.14" y="894.65"/><use href="#w" x="399.42" y="894.65"/><use href="#w" x="416.70" y="894.65"/><use href="#w" x="433.98" y="894.65"/><use href="#w" x="451.26" y="894.65"/>
<text transform="translate(468.71 922.00) scale(0.7850 1)" font-size="26.3" font-weight="bold" fill="#636466" stroke="#636466" stroke-width="0.6">8</text>
<text transform="translate(139.97 966.15) scale(0.8140 1)" font-size="27.3" fill="#6d6e71">Испания</text>
<svg x="255.2" y="940.6" width="44.6" height="29.5" viewBox="0 0 45 30" preserveAspectRatio="none"><rect x="0" y="0" width="45" height="30" fill="#fcc412"/><rect x="0" y="0" width="45" height="7.5" fill="#c8202f"/><rect x="0" y="22.5" width="45" height="7.5" fill="#c8202f"/><rect x="10.3" y="12" width="1.3" height="7.5" fill="#d8d0c0"/><rect x="18.4" y="12" width="1.3" height="7.5" fill="#d8d0c0"/><path d="M12 11.5h6v6q0 2.5-3 3.3-3-.8-3-3.3z" fill="#b5392f"/><rect x="12" y="11.5" width="3" height="3.5" fill="#c8202f"/><rect x="15" y="11.5" width="3" height="3.5" fill="#e8e0d0"/><rect x="12" y="15" width="3" height="3" fill="#f0c030"/><path d="M12.5 11.2q2.5-3 5 0z" fill="#b5392f"/><rect x=".5" y=".5" width="44" height="29" fill="none" stroke="#8c8c8e" stroke-width="1"/></svg>
<use href="#m" x="330.30" y="939.39"/><use href="#m" x="347.58" y="939.39"/><use href="#m" x="364.86" y="939.39"/><use href="#m" x="382.14" y="939.39"/><use href="#m" x="399.42" y="939.39"/><use href="#m" x="416.70" y="939.39"/><use href="#w" x="433.98" y="939.39"/><use href="#w" x="451.26" y="939.39"/>
<text transform="translate(468.71 966.65) scale(0.7850 1)" font-size="26.3" font-weight="bold" fill="#636466" stroke="#636466" stroke-width="0.6">8</text>
<text transform="translate(137.10 1010.80) scale(0.8140 1)" font-size="27.3" fill="#6d6e71">Франция</text>
<svg x="255.2" y="985.2" width="44.6" height="29.5" viewBox="0 0 45 30" preserveAspectRatio="none"><rect x="0" y="0" width="15" height="30" fill="#0b54a3"/><rect x="15" y="0" width="15" height="30" fill="#fff"/><rect x="30" y="0" width="15" height="30" fill="#ef4035"/><rect x=".5" y=".5" width="44" height="29" fill="none" stroke="#8c8c8e" stroke-width="1"/></svg>
<use href="#m" x="330.30" y="984.13"/><use href="#m" x="347.58" y="984.13"/><use href="#m" x="364.86" y="984.13"/><use href="#m" x="382.14" y="984.13"/><use href="#m" x="399.42" y="984.13"/><use href="#m" x="416.70" y="984.13"/><use href="#m" x="433.98" y="984.13"/><use href="#w" x="451.26" y="984.13"/>
<text transform="translate(468.71 1011.30) scale(0.7850 1)" font-size="26.3" font-weight="bold" fill="#636466" stroke="#636466" stroke-width="0.6">8</text>
<text transform="translate(129.70 1055.45) scale(0.8140 1)" font-size="27.3" fill="#6d6e71">Беларусь</text>
<svg x="255.2" y="1029.8" width="44.6" height="29.5" viewBox="0 0 45 30" preserveAspectRatio="none"><rect x="0" y="0" width="45" height="20" fill="#cf2027"/><rect x="0" y="20" width="45" height="10" fill="#149747"/><rect x="0" y="0" width="9" height="30" fill="#fff"/><path d="M1.8 0V30M7.2 0V30" stroke="#cf2027" stroke-width="1.5" stroke-dasharray="1.8 1.2"/><path d="M4.5 .8V30" stroke="#cf2027" stroke-width="2.6" stroke-dasharray="2 1.5"/><rect x=".5" y=".5" width="44" height="29" fill="none" stroke="#8c8c8e" stroke-width="1"/></svg>
<use href="#m" x="330.30" y="1028.87"/><use href="#m" x="347.58" y="1028.87"/><use href="#m" x="364.86" y="1028.87"/><use href="#m" x="382.14" y="1028.87"/><use href="#w" x="399.42" y="1028.87"/><use href="#w" x="416.70" y="1028.87"/><use href="#w" x="433.98" y="1028.87"/><use href="#w" x="451.26" y="1028.87"/>
<text transform="translate(468.71 1055.95) scale(0.7850 1)" font-size="26.3" font-weight="bold" fill="#636466" stroke="#636466" stroke-width="0.6">8</text>
<text transform="translate(146.70 1100.10) scale(0.8140 1)" font-size="27.3" fill="#6d6e71">Швеция</text>
<svg x="255.2" y="1074.4" width="44.6" height="29.5" viewBox="0 0 45 30" preserveAspectRatio="none"><rect x="0" y="0" width="45" height="30" fill="#0b5a9d"/><rect x="12.5" y="0" width="6" height="30" fill="#fdc714"/><rect x="0" y="12" width="45" height="6" fill="#fdc714"/><rect x=".5" y=".5" width="44" height="29" fill="none" stroke="#8c8c8e" stroke-width="1"/></svg>
<use href="#m" x="330.30" y="1073.61"/><use href="#m" x="347.58" y="1073.61"/><use href="#m" x="364.86" y="1073.61"/><use href="#m" x="382.14" y="1073.61"/><use href="#m" x="399.42" y="1073.61"/><use href="#m" x="416.70" y="1073.61"/><use href="#w" x="433.98" y="1073.61"/>
<text transform="translate(448.01 1100.60) scale(0.7850 1)" font-size="26.3" font-weight="bold" fill="#636466" stroke="#636466" stroke-width="0.6">7</text>
<text transform="translate(109.03 1144.75) scale(0.8140 1)" font-size="27.3" fill="#6d6e71">Португалия</text>
<svg x="255.2" y="1119.0" width="44.6" height="29.5" viewBox="0 0 45 30" preserveAspectRatio="none"><rect x="0" y="0" width="18" height="30" fill="#0f6b3c"/><rect x="18" y="0" width="27" height="30" fill="#e3202b"/><circle cx="17.5" cy="15" r="6.3" fill="none" stroke="#f0d030" stroke-width="1.7"/><path d="M14.3 11.3h6.4v4.5q0 2.5-3.2 3.6-3.2-1.1-3.2-3.6z" fill="#e3202b" stroke="#fff" stroke-width=".9"/><rect x="16.2" y="12.8" width="2.6" height="3.6" fill="#fff"/><rect x="16.9" y="13.6" width="1.2" height="1.8" fill="#2a4a9c"/><rect x=".5" y=".5" width="44" height="29" fill="none" stroke="#8c8c8e" stroke-width="1"/></svg>
<use href="#m" x="330.30" y="1118.35"/><use href="#m" x="347.58" y="1118.35"/><use href="#m" x="364.86" y="1118.35"/><use href="#m" x="382.14" y="1118.35"/><use href="#w" x="399.42" y="1118.35"/>
<text transform="translate(413.51 1145.25) scale(0.7850 1)" font-size="26.3" font-weight="bold" fill="#636466" stroke="#636466" stroke-width="0.6">5</text>
<text transform="translate(155.48 1189.40) scale(0.8140 1)" font-size="27.3" fill="#6d6e71">Греция</text>
<svg x="255.2" y="1163.5" width="44.6" height="29.5" viewBox="0 0 45 30" preserveAspectRatio="none"><rect x="0" y="0" width="45" height="30" fill="#fff"/><rect x="0" y="0" width="45" height="3.33333" fill="#263791"/><rect x="0" y="6.66667" width="45" height="3.33333" fill="#263791"/><rect x="0" y="13.3333" width="45" height="3.33333" fill="#263791"/><rect x="0" y="20" width="45" height="3.33333" fill="#263791"/><rect x="0" y="26.6667" width="45" height="3.33333" fill="#263791"/><rect x="0" y="0" width="16.67" height="16.67" fill="#263791"/><rect x="6.67" y="0" width="3.33" height="16.67" fill="#fff"/><rect x="0" y="6.67" width="16.67" height="3.33" fill="#fff"/><rect x=".5" y=".5" width="44" height="29" fill="none" stroke="#8c8c8e" stroke-width="1"/></svg>
<use href="#m" x="330.30" y="1163.09"/><use href="#m" x="347.58" y="1163.09"/><use href="#m" x="364.86" y="1163.09"/><use href="#m" x="382.14" y="1163.09"/><use href="#w" x="399.42" y="1163.09"/>
<text transform="translate(413.51 1189.90) scale(0.7850 1)" font-size="26.3" font-weight="bold" fill="#636466" stroke="#636466" stroke-width="0.6">5</text>
<text transform="translate(174.82 1234.05) scale(0.8140 1)" font-size="27.3" fill="#6d6e71">США</text>
<svg x="255.2" y="1208.1" width="44.6" height="29.5" viewBox="0 0 45 30" preserveAspectRatio="none"><rect x="0" y="0" width="45" height="30" fill="#fff"/><rect x="0" y="0" width="45" height="2.30769" fill="#e0262f"/><rect x="0" y="4.61538" width="45" height="2.30769" fill="#e0262f"/><rect x="0" y="9.23077" width="45" height="2.30769" fill="#e0262f"/><rect x="0" y="13.8462" width="45" height="2.30769" fill="#e0262f"/><rect x="0" y="18.4615" width="45" height="2.30769" fill="#e0262f"/><rect x="0" y="23.0769" width="45" height="2.30769" fill="#e0262f"/><rect x="0" y="27.6923" width="45" height="2.30769" fill="#e0262f"/><rect x="0" y="0" width="21" height="16.15" fill="#2e3192"/><path d="M1.1 1.3h.9v.9h-.9zM4 1.3h.9v.9h-.9zM6.8 1.3h.9v.9h-.9zM9.7 1.3h.9v.9h-.9zM12.5 1.3h.9v.9h-.9zM15.3 1.3h.9v.9h-.9zM18.2 1.3h.9v.9h-.9zM2.5 3.8h.9v.9h-.9zM5.4 3.8h.9v.9h-.9zM8.2 3.8h.9v.9h-.9zM11.1 3.8h.9v.9h-.9zM13.9 3.8h.9v.9h-.9zM16.8 3.8h.9v.9h-.9zM19.6 3.8h.9v.9h-.9zM1.1 6.3h.9v.9h-.9zM4 6.3h.9v.9h-.9zM6.8 6.3h.9v.9h-.9zM9.7 6.3h.9v.9h-.9zM12.5 6.3h.9v.9h-.9zM15.3 6.3h.9v.9h-.9zM18.2 6.3h.9v.9h-.9zM2.5 8.8h.9v.9h-.9zM5.4 8.8h.9v.9h-.9zM8.2 8.8h.9v.9h-.9zM11.1 8.8h.9v.9h-.9zM13.9 8.8h.9v.9h-.9zM16.8 8.8h.9v.9h-.9zM19.6 8.8h.9v.9h-.9zM1.1 11.3h.9v.9h-.9zM4 11.3h.9v.9h-.9zM6.8 11.3h.9v.9h-.9zM9.7 11.3h.9v.9h-.9zM12.5 11.3h.9v.9h-.9zM15.3 11.3h.9v.9h-.9zM18.2 11.3h.9v.9h-.9zM2.5 13.8h.9v.9h-.9zM5.4 13.8h.9v.9h-.9zM8.2 13.8h.9v.9h-.9zM11.1 13.8h.9v.9h-.9zM13.9 13.8h.9v.9h-.9zM16.8 13.8h.9v.9h-.9zM19.6 13.8h.9v.9h-.9z" fill="#fff" opacity=".85"/><rect x=".5" y=".5" width="44" height="29" fill="none" stroke="#8c8c8e" stroke-width="1"/></svg>
<use href="#m" x="330.30" y="1207.83"/><use href="#m" x="347.58" y="1207.83"/><use href="#m" x="364.86" y="1207.83"/><use href="#m" x="382.14" y="1207.83"/><use href="#w" x="399.42" y="1207.83"/>
<text transform="translate(413.51 1234.55) scale(0.7850 1)" font-size="26.3" font-weight="bold" fill="#636466" stroke="#636466" stroke-width="0.6">5</text>
<text transform="translate(142.92 1278.70) scale(0.8140 1)" font-size="27.3" fill="#6d6e71">Нигерия</text>
<svg x="255.2" y="1252.7" width="44.6" height="29.5" viewBox="0 0 45 30" preserveAspectRatio="none"><rect x="0" y="0" width="15" height="30" fill="#0b8a4e"/><rect x="15" y="0" width="15" height="30" fill="#fff"/><rect x="30" y="0" width="15" height="30" fill="#0b8a4e"/><rect x=".5" y=".5" width="44" height="29" fill="none" stroke="#8c8c8e" stroke-width="1"/></svg>
<use href="#m" x="330.30" y="1252.57"/><use href="#w" x="347.58" y="1252.57"/><use href="#w" x="364.86" y="1252.57"/><use href="#w" x="382.14" y="1252.57"/><use href="#w" x="399.42" y="1252.57"/>
<text transform="translate(413.51 1279.20) scale(0.7850 1)" font-size="26.3" font-weight="bold" fill="#636466" stroke="#636466" stroke-width="0.6">5</text>
<text transform="translate(154.39 1323.35) scale(0.8140 1)" font-size="27.3" fill="#6d6e71">Лесото</text>
<svg x="255.2" y="1297.3" width="44.6" height="29.5" viewBox="0 0 45 30" preserveAspectRatio="none"><rect x="0" y="0" width="45" height="9" fill="#233a95"/><rect x="0" y="9" width="45" height="12" fill="#fff"/><rect x="0" y="21" width="45" height="9" fill="#13964a"/><path d="M22.5 10.3l1.3 4.2 2.3 3.6h-7.2l2.3-3.6z" fill="#111"/><ellipse cx="22.5" cy="18.3" rx="4" ry="1.2" fill="#111"/><rect x=".5" y=".5" width="44" height="29" fill="none" stroke="#8c8c8e" stroke-width="1"/></svg>
<use href="#m" x="330.30" y="1297.31"/><use href="#m" x="347.58" y="1297.31"/><use href="#m" x="364.86" y="1297.31"/><use href="#w" x="382.14" y="1297.31"/>
<text transform="translate(397.71 1323.85) scale(0.7850 1)" font-size="26.3" font-weight="bold" fill="#636466" stroke="#636466" stroke-width="0.6">4</text>
<text transform="translate(138.86 1368.00) scale(0.8140 1)" font-size="27.3" fill="#6d6e71">Мексика</text>
<svg x="255.2" y="1341.9" width="44.6" height="29.5" viewBox="0 0 45 30" preserveAspectRatio="none"><rect x="0" y="0" width="15" height="30" fill="#0f6848"/><rect x="15" y="0" width="15" height="30" fill="#fff"/><rect x="30" y="0" width="15" height="30" fill="#cf2030"/><circle cx="22.5" cy="15" r="3.8" fill="#c9b48a"/><circle cx="22.5" cy="16" r="3" fill="none" stroke="#7a9a4a" stroke-width="1"/><circle cx="22.3" cy="14.2" r="2" fill="#8a6238"/><rect x=".5" y=".5" width="44" height="29" fill="none" stroke="#8c8c8e" stroke-width="1"/></svg>
<use href="#m" x="330.30" y="1342.05"/><use href="#m" x="347.58" y="1342.05"/><use href="#w" x="364.86" y="1342.05"/><use href="#w" x="382.14" y="1342.05"/>
<text transform="translate(397.71 1368.50) scale(0.7850 1)" font-size="26.3" font-weight="bold" fill="#636466" stroke="#636466" stroke-width="0.6">4</text>
<text transform="translate(128.45 1412.65) scale(0.8140 1)" font-size="27.3" fill="#6d6e71">Словакия</text>
<svg x="255.2" y="1386.5" width="44.6" height="29.5" viewBox="0 0 45 30" preserveAspectRatio="none"><rect x="0" y="0" width="45" height="10" fill="#fff"/><rect x="0" y="10" width="45" height="10" fill="#1f4a9c"/><rect x="0" y="20" width="45" height="10" fill="#e3242b"/><path d="M8.6 6h12.4v9.5c0 4.5-6.2 7-6.2 7s-6.2-2.5-6.2-7z" fill="#e3242b" stroke="#fff" stroke-width="1.2"/><path d="M14.8 8.5v10.5M11.8 11.3h6M11 14.4h7.6" stroke="#fff" stroke-width="1.4"/><path d="M9.8 18.5q5-3.5 10 0l-5 3.8z" fill="#1f4a9c"/><rect x=".5" y=".5" width="44" height="29" fill="none" stroke="#8c8c8e" stroke-width="1"/></svg>
<use href="#m" x="330.30" y="1386.79"/><use href="#m" x="347.58" y="1386.79"/><use href="#m" x="364.86" y="1386.79"/>
<text transform="translate(379.31 1413.15) scale(0.7850 1)" font-size="26.3" font-weight="bold" fill="#636466" stroke="#636466" stroke-width="0.6">3</text>
<text transform="translate(174.62 1457.17) scale(0.8140 1)" font-size="27.3" fill="#6d6e71">Иран</text>
<svg x="255.2" y="1431.1" width="44.6" height="29.5" viewBox="0 0 45 30" preserveAspectRatio="none"><rect x="0" y="0" width="45" height="10" fill="#1f9a48"/><rect x="0" y="10" width="45" height="10" fill="#fff"/><rect x="0" y="20" width="45" height="10" fill="#e0232b"/><path d="M0 10H45" stroke="#fff" stroke-width="1" stroke-dasharray="1.2 .8" opacity=".6"/><path d="M0 20H45" stroke="#e0232b" stroke-width="1" stroke-dasharray="1.2 .8" opacity=".6"/><path d="M20.4 12.8q-1.6 2.7 1.2 4.8M24.6 12.8q1.6 2.7-1.2 4.8M21.6 12.3q-.9 2.7.5 4.7M23.4 12.3q.9 2.7-.5 4.7M22.5 11.3v7" stroke="#e0232b" stroke-width=".95" fill="none"/><rect x=".5" y=".5" width="44" height="29" fill="none" stroke="#8c8c8e" stroke-width="1"/></svg>
<use href="#m" x="330.30" y="1431.53"/><use href="#m" x="347.58" y="1431.53"/><use href="#w" x="364.86" y="1431.53"/>
<text transform="translate(379.31 1457.67) scale(0.7850 1)" font-size="26.3" font-weight="bold" fill="#636466" stroke="#636466" stroke-width="0.6">3</text>
<text transform="translate(143.47 1501.69) scale(0.8140 1)" font-size="27.3" fill="#6d6e71">Польша</text>
<svg x="255.2" y="1475.7" width="44.6" height="29.5" viewBox="0 0 45 30" preserveAspectRatio="none"><rect x="0" y="0" width="45" height="15" fill="#e9e9ea"/><rect x="0" y="15" width="45" height="15" fill="#d4213d"/><rect x=".5" y=".5" width="44" height="29" fill="none" stroke="#8c8c8e" stroke-width="1"/></svg>
<use href="#m" x="330.30" y="1476.27"/><use href="#w" x="347.58" y="1476.27"/>
<text transform="translate(363.61 1502.19) scale(0.7850 1)" font-size="26.3" font-weight="bold" fill="#636466" stroke="#636466" stroke-width="0.6">2</text>
<text transform="translate(131.96 1546.21) scale(0.8140 1)" font-size="27.3" fill="#6d6e71">Болгария</text>
<svg x="255.2" y="1520.3" width="44.6" height="29.5" viewBox="0 0 45 30" preserveAspectRatio="none"><rect x="0" y="0" width="45" height="10" fill="#fff"/><rect x="0" y="10" width="45" height="10" fill="#1b9a6d"/><rect x="0" y="20" width="45" height="10" fill="#d52b27"/><rect x=".5" y=".5" width="44" height="29" fill="none" stroke="#8c8c8e" stroke-width="1"/></svg>
<use href="#m" x="330.30" y="1521.01"/><use href="#w" x="347.58" y="1521.01"/>
<text transform="translate(363.61 1546.71) scale(0.7850 1)" font-size="26.3" font-weight="bold" fill="#636466" stroke="#636466" stroke-width="0.6">2</text>
<text transform="translate(88.66 1590.73) scale(0.8140 1)" font-size="27.3" fill="#6d6e71">Азербайджан</text>
<svg x="255.2" y="1564.8" width="44.6" height="29.5" viewBox="0 0 45 30" preserveAspectRatio="none"><rect x="0" y="0" width="45" height="10" fill="#1f9ccc"/><rect x="0" y="10" width="45" height="10" fill="#e21f35"/><rect x="0" y="20" width="45" height="10" fill="#1fa65a"/><circle cx="20.8" cy="15" r="4.4" fill="#fff"/><circle cx="22.1" cy="15" r="3.6" fill="#e21f35"/><polygon points="27.6,14.35 26.6,15.32 26.83,16.7 25.6,16.05 24.37,16.7 24.6,15.32 23.6,14.35 24.98,14.15 25.6,12.9 26.22,14.15" fill="#fff"/><rect x=".5" y=".5" width="44" height="29" fill="none" stroke="#8c8c8e" stroke-width="1"/></svg>
<use href="#m" x="330.30" y="1565.75"/><use href="#w" x="347.58" y="1565.75"/>
<text transform="translate(363.61 1591.23) scale(0.7850 1)" font-size="26.3" font-weight="bold" fill="#636466" stroke="#636466" stroke-width="0.6">2</text>
<text transform="translate(143.69 1635.25) scale(0.8140 1)" font-size="27.3" fill="#6d6e71">Австрия</text>
<svg x="255.2" y="1609.4" width="44.6" height="29.5" viewBox="0 0 45 30" preserveAspectRatio="none"><rect x="0" y="0" width="45" height="10" fill="#ec2235"/><rect x="0" y="10" width="45" height="10" fill="#fff"/><rect x="0" y="20" width="45" height="10" fill="#ec2235"/><rect x=".5" y=".5" width="44" height="29" fill="none" stroke="#8c8c8e" stroke-width="1"/></svg>
<use href="#m" x="330.30" y="1610.49"/><use href="#w" x="347.58" y="1610.49"/>
<text transform="translate(363.61 1635.75) scale(0.7850 1)" font-size="26.3" font-weight="bold" fill="#636466" stroke="#636466" stroke-width="0.6">2</text>
<text transform="translate(132.65 1679.78) scale(0.8140 1)" font-size="27.3" fill="#6d6e71">Эфиопия</text>
<svg x="255.2" y="1654.0" width="44.6" height="29.5" viewBox="0 0 45 30" preserveAspectRatio="none"><rect x="0" y="0" width="45" height="10" fill="#17803f"/><rect x="0" y="10" width="45" height="10" fill="#f8dc1c"/><rect x="0" y="20" width="45" height="10" fill="#e2372b"/><circle cx="22.5" cy="15" r="9.3" fill="#27a3e0"/><polygon points="22.5,9.1 26.14,20.32 16.6,13.38 28.4,13.38 18.86,20.32" fill="none" stroke="#f0e040" stroke-width="0.9"/><rect x=".5" y=".5" width="44" height="29" fill="none" stroke="#8c8c8e" stroke-width="1"/></svg>
<use href="#m" x="330.30" y="1655.23"/><use href="#w" x="347.58" y="1655.23"/>
<text transform="translate(363.61 1680.28) scale(0.7850 1)" font-size="26.3" font-weight="bold" fill="#636466" stroke="#636466" stroke-width="0.6">2</text>
<text transform="translate(96.11 1724.30) scale(0.8140 1)" font-size="27.3" fill="#6d6e71">Нидерланды</text>
<svg x="255.2" y="1698.6" width="44.6" height="29.5" viewBox="0 0 45 30" preserveAspectRatio="none"><rect x="0" y="0" width="45" height="10" fill="#ad1f2c"/><rect x="0" y="10" width="45" height="10" fill="#fff"/><rect x="0" y="20" width="45" height="10" fill="#1f4690"/><rect x=".5" y=".5" width="44" height="29" fill="none" stroke="#8c8c8e" stroke-width="1"/></svg>
<use href="#m" x="330.30" y="1699.72"/><use href="#w" x="347.58" y="1699.72"/>
<text transform="translate(363.61 1724.80) scale(0.7850 1)" font-size="26.3" font-weight="bold" fill="#636466" stroke="#636466" stroke-width="0.6">2</text>
<text transform="translate(142.07 1768.82) scale(0.8140 1)" font-size="27.3" fill="#6d6e71">Эстония</text>
<svg x="255.2" y="1743.2" width="44.6" height="29.5" viewBox="0 0 45 30" preserveAspectRatio="none"><rect x="0" y="0" width="45" height="10" fill="#2571bb"/><rect x="0" y="10" width="45" height="10" fill="#111"/><rect x="0" y="20" width="45" height="10" fill="#fff"/><rect x=".5" y=".5" width="44" height="29" fill="none" stroke="#8c8c8e" stroke-width="1"/></svg>
<use href="#m" x="330.30" y="1744.21"/><use href="#m" x="347.58" y="1744.21"/>
<text transform="translate(363.61 1769.32) scale(0.7850 1)" font-size="26.3" font-weight="bold" fill="#636466" stroke="#636466" stroke-width="0.6">2</text>
<text transform="translate(112.14 1813.34) scale(0.8140 1)" font-size="27.3" fill="#6d6e71">Узбекистан</text>
<svg x="255.2" y="1787.8" width="44.6" height="29.5" viewBox="0 0 45 30" preserveAspectRatio="none"><rect x="0" y="0" width="45" height="30" fill="#fff"/><rect x="0" y="0" width="45" height="9.5" fill="#1f9cb9"/><rect x="0" y="9.5" width="45" height="1" fill="#d8232a"/><rect x="0" y="19.5" width="45" height="1" fill="#d8232a"/><rect x="0" y="20.5" width="45" height="9.5" fill="#2bb24b"/><circle cx="6.2" cy="4.8" r="2.6" fill="#fff"/><circle cx="7.3" cy="4.8" r="2.3" fill="#1f9cb9"/><path d="M12 2.5h.9v.9H12zM14.4 2.5h.9v.9h-.9zM16.8 2.5h.9v.9h-.9zM12 4.6h.9v.9H12zM14.4 4.6h.9v.9h-.9zM16.8 4.6h.9v.9h-.9zM19.2 4.6h.9v.9h-.9zM12 6.7h.9v.9H12zM14.4 6.7h.9v.9h-.9zM16.8 6.7h.9v.9h-.9zM19.2 6.7h.9v.9h-.9zM21.6 6.7h.9v.9h-.9z" fill="#fff"/><rect x=".5" y=".5" width="44" height="29" fill="none" stroke="#8c8c8e" stroke-width="1"/></svg>
<use href="#m" x="330.30" y="1788.70"/><use href="#w" x="347.58" y="1788.70"/>
<text transform="translate(363.61 1813.84) scale(0.7850 1)" font-size="26.3" font-weight="bold" fill="#636466" stroke="#636466" stroke-width="0.6">2</text>
<text transform="translate(130.82 1857.86) scale(0.8140 1)" font-size="27.3" fill="#6d6e71">Хорватия</text>
<svg x="255.2" y="1832.4" width="44.6" height="29.5" viewBox="0 0 45 30" preserveAspectRatio="none"><rect x="0" y="0" width="45" height="10" fill="#e2212b"/><rect x="0" y="10" width="45" height="10" fill="#fff"/><rect x="0" y="20" width="45" height="10" fill="#2a3a8c"/><path d="M17.5 8h10v8.5c0 3.5-5 5.5-5 5.5s-5-2-5-5.5z" fill="#fff"/><clipPath id="hrc"><path d="M17.5 8h10v8.5c0 3.5-5 5.5-5 5.5s-5-2-5-5.5z"/></clipPath><path d="M17.5 8h2v2.5h-2zM21.5 8h2v2.5h-2zM25.5 8h2v2.5h-2zM19.5 10.5h2v2.5h-2zM23.5 10.5h2v2.5h-2zM17.5 13h2v2.5h-2zM21.5 13h2v2.5h-2zM25.5 13h2v2.5h-2zM19.5 15.5h2v2.5h-2zM23.5 15.5h2v2.5h-2zM17.5 18h2v2.5h-2zM21.5 18h2v2.5h-2zM25.5 18h2v2.5h-2z" fill="#e2212b" clip-path="url(#hrc)"/><path d="M17.3 7.6l.8-3 1.6 1 1.4-1.6 1.4 1.3 1.4-1.3 1.4 1.6 1.6-1 .8 3z" fill="#3a7bbf"/><rect x=".5" y=".5" width="44" height="29" fill="none" stroke="#8c8c8e" stroke-width="1"/></svg>
<use href="#m" x="330.30" y="1833.19"/><use href="#w" x="347.58" y="1833.19"/>
<text transform="translate(363.61 1858.36) scale(0.7850 1)" font-size="26.3" font-weight="bold" fill="#636466" stroke="#636466" stroke-width="0.6">2</text>
<text transform="translate(123.45 1902.38) scale(0.8140 1)" font-size="27.3" fill="#6d6e71">Казахстан</text>
<svg x="255.2" y="1877.0" width="44.6" height="29.5" viewBox="0 0 45 30" preserveAspectRatio="none"><rect x="0" y="0" width="45" height="30" fill="#2eb4cd"/><circle cx="24" cy="12.3" r="3.7" fill="#f8d42a"/><path d="M28.5 12.3L30 12.3M28.16 14.02L29.54 14.6M27.18 15.48L28.24 16.54M25.72 16.46L26.3 17.84M24 16.8L24 18.3M22.28 16.46L21.7 17.84M20.82 15.48L19.76 16.54M19.84 14.02L18.46 14.6M19.5 12.3L18 12.3M19.84 10.58L18.46 10M20.82 9.12L19.76 8.06M22.28 8.14L21.7 6.76M24 7.8L24 6.3M25.72 8.14L26.3 6.76M27.18 9.12L28.24 8.06M28.16 10.58L29.54 10" stroke="#f8d42a" stroke-width=".7"/><path d="M15.5 15.5q3 3.5 8.5 3.8 5.5-.3 8.5-3.8-2 5-6.5 5.8l-2 1.5-2-1.5q-4.5-.8-6.5-5.8z" fill="#f8d42a"/><path d="M3.5 1.5V28.5" stroke="#f8d42a" stroke-width="2.2" stroke-dasharray="1.8 1"/><rect x=".5" y=".5" width="44" height="29" fill="none" stroke="#8c8c8e" stroke-width="1"/></svg>
<use href="#m" x="330.30" y="1877.68"/><use href="#w" x="347.58" y="1877.68"/>
<text transform="translate(363.61 1902.88) scale(0.7850 1)" font-size="26.3" font-weight="bold" fill="#636466" stroke="#636466" stroke-width="0.6">2</text>
<text transform="translate(147.37 1946.90) scale(0.8140 1)" font-size="27.3" fill="#6d6e71">Ямайка</text>
<svg x="255.2" y="1921.6" width="44.6" height="29.5" viewBox="0 0 45 30" preserveAspectRatio="none"><rect x="0" y="0" width="45" height="30" fill="#2b8f42"/><polygon points="0,0 22.5,15 0,30" fill="#111"/><polygon points="45,0 22.5,15 45,30" fill="#111"/><path d="M0 0L45 30M45 0L0 30" stroke="#f8dd1c" stroke-width="5"/><rect x=".5" y=".5" width="44" height="29" fill="none" stroke="#8c8c8e" stroke-width="1"/></svg>
<use href="#m" x="330.30" y="1922.05"/><use href="#w" x="347.58" y="1922.05"/>
<text transform="translate(363.61 1947.40) scale(0.7850 1)" font-size="26.3" font-weight="bold" fill="#636466" stroke="#636466" stroke-width="0.6">2</text>
<path d="M682.6 662.5H1066.7V1957.9H542V1044.8H682.6Z" fill="#fff" stroke="#dcdddf" stroke-width="1.3"/>
<rect x="999.5" y="706.9" width="49.0" height="28.4" fill="#efcdc1"/>
<rect x="999.5" y="735.0" width="49.0" height="571.9" fill="#e3a191"/>
<rect x="999.5" y="1306.6" width="49.0" height="377.0" fill="#d67b6a"/>
<rect x="999.5" y="1683.3" width="49.0" height="135.5" fill="#c9534a"/>
<rect x="999.5" y="1818.5" width="49.0" height="139.7" fill="#be1e2d"/>
<text transform="translate(715.88 691.30) scale(0.9075 1)" font-size="25.8" font-weight="bold" fill="#333335" stroke="#333335" stroke-width="1.3" stroke-linejoin="round">Период отстранения/Случаи</text>
<text transform="translate(827.71 732.00) scale(0.9474 1)" font-size="26" fill="#2f2f31">Меньше 2 лет</text>
<text transform="translate(916.16 1020.70) scale(0.9395 1)" font-size="26" fill="#2f2f31">2 года</text>
<text transform="translate(911.80 1497.80) scale(0.9267 1)" font-size="26" fill="#2f2f31">3-5 лет</text>
<text transform="translate(894.96 1768.10) scale(0.9371 1)" font-size="26" fill="#2f2f31">6-10 лет</text>
<text transform="translate(839.09 1902.00) scale(1.0039 1)" font-size="26" fill="#2f2f31">Пожизненно</text>
<text transform="translate(1016.15 732.00) scale(0.8453 1)" font-size="25.8" font-weight="bold" fill="#fff" stroke="#fff" stroke-width="0.5">7</text>
<text transform="translate(1005.47 1020.70) scale(0.8081 1)" font-size="25.8" font-weight="bold" fill="#fff" stroke="#fff" stroke-width="0.5" clip-path="url(#c4)"><tspan dx="-0.77">1</tspan><tspan dx="-1.71">4</tspan>4</text>
<text transform="translate(1010.35 1498.00) scale(0.8442 1)" font-size="25.8" font-weight="bold" fill="#fff" stroke="#fff" stroke-width="0.5">95</text>
<text transform="translate(1010.04 1768.40) scale(0.8588 1)" font-size="25.8" font-weight="bold" fill="#fff" stroke="#fff" stroke-width="0.5">34</text>
<text transform="translate(1010.04 1902.00) scale(0.8588 1)" font-size="25.8" font-weight="bold" fill="#fff" stroke="#fff" stroke-width="0.5">36</text>
<path d="M817.0 1044.8H986.0" stroke="#dcdddf" stroke-width="1" stroke-dasharray="2.2 1.9"/>
<text transform="translate(553.85 1071.60) scale(0.9438 1)" font-size="24.7" font-weight="bold" fill="#333335" stroke="#333335" stroke-width="1.25" stroke-linejoin="round">Пол дисквалифицированных</text>
<text transform="translate(554.79 1100.70) scale(0.9510 1)" font-size="24.7" font-weight="bold" fill="#333335" stroke="#333335" stroke-width="1.25" stroke-linejoin="round">легкоатлетов</text>
<g fill="#3fc4f1"><circle cx="650" cy="1138.8" r="11.8"/><path d="M622.1 1160.4A6 6 0 0 1 628.1 1154.4H671.4A6 6 0 0 1 677.4 1160.4V1207A4.35 4.35 0 0 1 668.7 1207V1169A2.15 2.15 0 0 0 664.4 1169V1264.8A5.2 5.2 0 0 1 654 1264.8V1213A4 4 0 0 0 646 1213V1264.8A5.35 5.35 0 0 1 635.3 1264.8V1169A2.15 2.15 0 0 0 631 1169V1207A4.45 4.45 0 0 1 622.1 1207Z"/></g>
<g fill="#f27db0"><circle cx="882.4" cy="1138.8" r="11.8"/><path d="M869.2 1159.2L850.6 1199.3M895.6 1159.2L914.6 1199.3" stroke="#f27db0" stroke-width="8.6" stroke-linecap="round" fill="none"/><rect x="864.4" y="1154.4" width="36" height="9" rx="4"/><path d="M873 1154.4H892L908.6 1223.2H895.4V1266.1A4 4 0 0 1 887.4 1266.1V1223.2H880.6V1266.1A4 4 0 0 1 872.6 1266.1V1223.2H857.3Z"/></g>
<text transform="translate(671.79 1145.30) scale(0.8889 1)" font-size="23.5" font-weight="bold" fill="#333335" stroke="#333335" stroke-width="0.5" clip-path="url(#c5)"><tspan dx="-0.70">1</tspan><tspan dx="-1.56">8</tspan>4</text>
<text transform="translate(827.10 1145.30) scale(0.8637 1)" font-size="23.5" font-weight="bold" fill="#333335" stroke="#333335" stroke-width="0.5" clip-path="url(#c6)"><tspan dx="-0.70">1</tspan><tspan dx="-1.56">3</tspan>2</text>
<path d="M764.90 1218.30A100.0 100.0 0 0 1 814.32 1405.23L794.38 1370.15A59.6 59.6 0 0 0 764.90 1258.65Z" fill="#f5a6c9"/>
<path d="M814.32 1405.23A100.0 100.0 0 1 1 764.90 1218.30L764.90 1258.65A59.6 59.6 0 1 0 794.38 1370.15Z" fill="#90d8f8"/>
<text transform="translate(730.78 1310.60) scale(0.8601 1)" font-size="25.4" fill="#2f2f31" stroke="#fff" stroke-width="0.55">ВСЕГО</text>
<text transform="translate(738.07 1348.20) scale(0.8594 1)" font-size="39" font-weight="bold" fill="#333335" stroke="#333335" stroke-width="0.8" clip-path="url(#c7)">3<tspan dx="-1.17">1</tspan><tspan dx="-2.58">6</tspan></text>
<path d="M555.7 1446.7H986.0" stroke="#dcdddf" stroke-width="1" stroke-dasharray="2.2 1.9"/>
<text transform="translate(555.35 1472.50) scale(0.9462 1)" font-size="24.7" font-weight="bold" fill="#333335" stroke="#333335" stroke-width="1.25" stroke-linejoin="round">Часто используемые</text>
<text transform="translate(555.35 1502.60) scale(0.9445 1)" font-size="24.7" font-weight="bold" fill="#333335" stroke="#333335" stroke-width="1.25" stroke-linejoin="round">вещества</text>
<text transform="translate(557.08 1545.80) scale(0.7800 1)" font-size="26" font-weight="bold" fill="#636466" stroke="#636466" stroke-width="0.5" clip-path="url(#c8)"><tspan dx="-0.78">1</tspan></text>
<text transform="translate(590.15 1545.80) scale(0.9492 1)" font-size="26.4" fill="#6d6e71">Станозолол</text>
<text transform="translate(733.14 1545.80) scale(0.8451 1)" font-size="26" font-weight="bold" fill="#636466" stroke="#636466" stroke-width="0.5">40</text>
<path d="M557.0 1557.1H762.8" stroke="#dcdddf" stroke-width="1" stroke-dasharray="2.2 1.9"/>
<text transform="translate(557.19 1590.35) scale(0.7800 1)" font-size="26" font-weight="bold" fill="#636466" stroke="#636466" stroke-width="0.5">2</text>
<text transform="translate(589.12 1590.35) scale(0.9924 1)" font-size="26.4" fill="#6d6e71">Норандростерон</text>
<text transform="translate(798.05 1590.35) scale(0.8306 1)" font-size="26" font-weight="bold" fill="#636466" stroke="#636466" stroke-width="0.5">35</text>
<path d="M557.0 1601.6H824.0" stroke="#dcdddf" stroke-width="1" stroke-dasharray="2.2 1.9"/>
<text transform="translate(557.19 1634.90) scale(0.7800 1)" font-size="26" font-weight="bold" fill="#636466" stroke="#636466" stroke-width="0.5">3</text>
<text transform="translate(590.12 1634.90) scale(0.9847 1)" font-size="26.4" fill="#6d6e71">Эритропоэтин</text>
<text transform="translate(770.04 1634.90) scale(0.8487 1)" font-size="26" font-weight="bold" fill="#636466" stroke="#636466" stroke-width="0.5">22</text>
<path d="M557.0 1646.2H795.0" stroke="#dcdddf" stroke-width="1" stroke-dasharray="2.2 1.9"/>
<text transform="translate(557.19 1679.45) scale(0.7800 1)" font-size="26" font-weight="bold" fill="#636466" stroke="#636466" stroke-width="0.5">4</text>
<text transform="translate(591.10 1679.45) scale(0.8716 1)" font-size="26.4" fill="#6d6e71">Дегидрохлорметилтестостерон</text>
<text transform="translate(930.42 1679.45) scale(0.7338 1)" font-size="26" font-weight="bold" fill="#636466" stroke="#636466" stroke-width="0.5" clip-path="url(#c9)"><tspan dx="-0.78">1</tspan><tspan dx="-1.72">6</tspan></text>
<path d="M557.0 1690.7H952.0" stroke="#dcdddf" stroke-width="1" stroke-dasharray="2.2 1.9"/>
<text transform="translate(557.19 1724.00) scale(0.7800 1)" font-size="26" font-weight="bold" fill="#636466" stroke="#636466" stroke-width="0.5">5</text>
<text transform="translate(589.13 1724.00) scale(0.9872 1)" font-size="26.4" fill="#6d6e71">Метенолон</text>
<text transform="translate(728.42 1724.00) scale(0.7338 1)" font-size="26" font-weight="bold" fill="#636466" stroke="#636466" stroke-width="0.5" clip-path="url(#c9)"><tspan dx="-0.78">1</tspan><tspan dx="-1.72">6</tspan></text>
<path d="M557.0 1735.3H754.0" stroke="#dcdddf" stroke-width="1" stroke-dasharray="2.2 1.9"/>
<text transform="translate(557.19 1768.55) scale(0.7800 1)" font-size="26" font-weight="bold" fill="#636466" stroke="#636466" stroke-width="0.5">6</text>
<text transform="translate(589.13 1768.55) scale(0.9859 1)" font-size="26.4" fill="#6d6e71">Метандиенон</text>
<text transform="translate(757.24 1768.55) scale(0.7137 1)" font-size="26" font-weight="bold" fill="#636466" stroke="#636466" stroke-width="0.5" clip-path="url(#c10)"><tspan dx="-0.78">1</tspan><tspan dx="-1.72">2</tspan></text>
<path d="M557.0 1779.8H779.5" stroke="#dcdddf" stroke-width="1" stroke-dasharray="2.2 1.9"/>
<text transform="translate(557.19 1813.10) scale(0.7800 1)" font-size="26" font-weight="bold" fill="#636466" stroke="#636466" stroke-width="0.5">7</text>
<text transform="translate(591.10 1813.10) scale(0.9497 1)" font-size="26.4" fill="#6d6e71">Тестостерон</text>
<text transform="translate(745.94 1813.10) scale(0.7059 1)" font-size="26" font-weight="bold" fill="#636466" stroke="#636466" stroke-width="0.5" clip-path="url(#c11)"><tspan dx="-0.78">1</tspan><tspan dx="-4.06">1</tspan></text>
<path d="M557.0 1824.4H762.8" stroke="#dcdddf" stroke-width="1" stroke-dasharray="2.2 1.9"/>
<text transform="translate(557.19 1857.65) scale(0.7800 1)" font-size="26" font-weight="bold" fill="#636466" stroke="#636466" stroke-width="0.5">8</text>
<text transform="translate(589.15 1857.65) scale(0.9774 1)" font-size="26.4" fill="#6d6e71">Кленбутерол</text>
<text transform="translate(748.63 1857.65) scale(0.7273 1)" font-size="26" font-weight="bold" fill="#636466" stroke="#636466" stroke-width="0.5" clip-path="url(#c11)"><tspan dx="-0.78">1</tspan><tspan dx="-4.06">1</tspan></text>
<path d="M557.0 1868.9H769.8" stroke="#dcdddf" stroke-width="1" stroke-dasharray="2.2 1.9"/>
<text transform="translate(557.19 1902.20) scale(0.7800 1)" font-size="26" font-weight="bold" fill="#636466" stroke="#636466" stroke-width="0.5">9</text>
<text transform="translate(590.13 1902.20) scale(0.9747 1)" font-size="26.4" fill="#6d6e71">Фуросемид</text>
<text transform="translate(735.81 1902.20) scale(0.7458 1)" font-size="26" font-weight="bold" fill="#636466" stroke="#636466" stroke-width="0.5" clip-path="url(#c12)"><tspan dx="-0.78">1</tspan><tspan dx="-1.72">0</tspan></text>
<path d="M557.0 1913.5H762.8" stroke="#dcdddf" stroke-width="1" stroke-dasharray="2.2 1.9"/>
<text transform="translate(557.08 1946.75) scale(0.7800 1)" font-size="26" font-weight="bold" fill="#636466" stroke="#636466" stroke-width="0.5" clip-path="url(#c12)"><tspan dx="-0.78">1</tspan><tspan dx="-1.72">0</tspan></text>
<text transform="translate(589.15 1946.75) scale(0.9732 1)" font-size="26.4" fill="#6d6e71">Метилгексанеамин</text>
<text transform="translate(826.37 1946.75) scale(0.8009 1)" font-size="26" font-weight="bold" fill="#636466" stroke="#636466" stroke-width="0.5">9</text>
<text transform="translate(1180.32 693.75) scale(0.8140 1)" font-size="27.3" fill="#6d6e71">Сербия</text>
<svg x="1278.3" y="671.6" width="44.3" height="29.2" viewBox="0 0 45 30" preserveAspectRatio="none"><rect x="0" y="0" width="45" height="10" fill="#c8363f"/><rect x="0" y="10" width="45" height="10" fill="#1c3c73"/><rect x="0" y="20" width="45" height="10" fill="#fff"/><path d="M10.8 9h10.4v8.5c0 4-5.2 6.5-5.2 6.5s-5.2-2.5-5.2-6.5z" fill="#c8363f" stroke="#efe6d8" stroke-width=".8"/><path d="M12 11.5l4 2 4-2v6l-4 4.5-4-4.5z" fill="#fff"/><rect x="14.8" y="13.5" width="2.4" height="4.5" fill="#c8363f"/><path d="M12 8.6l.9-4.6h6.2l.9 4.6z" fill="#e2b13c"/><path d="M16 1.8v2.5" stroke="#e2b13c" stroke-width="1"/><path d="M13 8.6h6v-1.6h-6z" fill="#c8363f"/><rect x=".5" y=".5" width="44" height="29" fill="none" stroke="#8c8c8e" stroke-width="1"/></svg>
<use href="#m" x="1352.6" y="670.4"/>
<text transform="translate(1371.41 693.05) scale(0.7850 1)" font-size="26.3" font-weight="bold" fill="#636466" stroke="#636466" stroke-width="0.6" clip-path="url(#c13)"><tspan dx="-0.79">1</tspan></text>
<text transform="translate(1169.66 738.41) scale(0.8140 1)" font-size="27.3" fill="#6d6e71">Эквадор</text>
<svg x="1278.3" y="716.2" width="44.3" height="29.2" viewBox="0 0 45 30" preserveAspectRatio="none"><rect x="0" y="0" width="45" height="15" fill="#fde100"/><rect x="0" y="15" width="45" height="7.5" fill="#1f4aa5"/><rect x="0" y="22.5" width="45" height="7.5" fill="#e2202b"/><ellipse cx="22.5" cy="15.5" rx="3.3" ry="4.3" fill="#7fb8d8" stroke="#8a6a2a" stroke-width=".8"/><path d="M17 9.5q5.5-3.5 11 0-3-.4-5.5 1.7-2.5-2.1-5.5-1.7z" fill="#3a2a1a"/><path d="M19.5 17.5h6v2.5h-6z" fill="#4a8a3a"/><path d="M18 13l-1.5 7M27 13l1.5 7" stroke="#c8202f" stroke-width=".9"/><rect x=".5" y=".5" width="44" height="29" fill="none" stroke="#8c8c8e" stroke-width="1"/></svg>
<use href="#w" x="1352.6" y="715.0"/>
<text transform="translate(1371.41 737.71) scale(0.7850 1)" font-size="26.3" font-weight="bold" fill="#636466" stroke="#636466" stroke-width="0.6" clip-path="url(#c13)"><tspan dx="-0.79">1</tspan></text>
<text transform="translate(1169.15 783.07) scale(0.8140 1)" font-size="27.3" fill="#6d6e71">Израиль</text>
<svg x="1278.3" y="760.8" width="44.3" height="29.2" viewBox="0 0 45 30" preserveAspectRatio="none"><rect x="0" y="0" width="45" height="30" fill="#fff"/><rect x="0" y="3.2" width="45" height="4" fill="#2a3fa6"/><rect x="0" y="22.8" width="45" height="4" fill="#2a3fa6"/><polygon points="22.5,9.3 27.44,17.85 17.56,17.85" fill="none" stroke="#2a3fa6" stroke-width="1.2"/><polygon points="22.5,20.7 27.44,12.15 17.56,12.15" fill="none" stroke="#2a3fa6" stroke-width="1.2"/><rect x=".5" y=".5" width="44" height="29" fill="none" stroke="#8c8c8e" stroke-width="1"/></svg>
<use href="#m" x="1352.6" y="759.7"/>
<text transform="translate(1371.41 782.37) scale(0.7850 1)" font-size="26.3" font-weight="bold" fill="#636466" stroke="#636466" stroke-width="0.6" clip-path="url(#c13)"><tspan dx="-0.79">1</tspan></text>
<text transform="translate(1142.00 827.74) scale(0.8140 1)" font-size="27.3" fill="#6d6e71">Финляндия</text>
<svg x="1278.3" y="805.4" width="44.3" height="29.2" viewBox="0 0 45 30" preserveAspectRatio="none"><rect x="0" y="0" width="45" height="30" fill="#fff"/><rect x="12" y="0" width="5.8" height="30" fill="#22327b"/><rect x="0" y="12" width="45" height="6" fill="#22327b"/><rect x=".5" y=".5" width="44" height="29" fill="none" stroke="#8c8c8e" stroke-width="1"/></svg>
<use href="#m" x="1352.6" y="804.3"/>
<text transform="translate(1371.41 827.04) scale(0.7850 1)" font-size="26.3" font-weight="bold" fill="#636466" stroke="#636466" stroke-width="0.6" clip-path="url(#c13)"><tspan dx="-0.79">1</tspan></text>
<text transform="translate(1146.19 872.40) scale(0.8140 1)" font-size="27.3" fill="#6d6e71">Венесуэла</text>
<svg x="1278.3" y="850.0" width="44.3" height="29.2" viewBox="0 0 45 30" preserveAspectRatio="none"><rect x="0" y="0" width="45" height="10" fill="#f7d117"/><rect x="0" y="10" width="45" height="10" fill="#1f3f9c"/><rect x="0" y="20" width="45" height="10" fill="#d01f2e"/><circle cx="13.5729" cy="17.2348" r="0.75" fill="#fff"/><circle cx="15.2226" cy="14.9791" r="0.75" fill="#fff"/><circle cx="17.75" cy="13.3048" r="0.75" fill="#fff"/><circle cx="20.8503" cy="12.4139" r="0.75" fill="#fff"/><circle cx="24.1497" cy="12.4139" r="0.75" fill="#fff"/><circle cx="27.25" cy="13.3048" r="0.75" fill="#fff"/><circle cx="29.7774" cy="14.9791" r="0.75" fill="#fff"/><circle cx="31.4271" cy="17.2348" r="0.75" fill="#fff"/><path d="M2 2h4v3.5q0 1.5-2 2.3-2-.8-2-2.3z" fill="#c8202f"/><path d="M2 4.5h4v1q0 1.5-2 2.3-2-.8-2-2.3z" fill="#2a5fa6"/><path d="M1.3 2q2.7-2 5.4 0" stroke="#3a8a3a" stroke-width=".7" fill="none"/><rect x=".5" y=".5" width="44" height="29" fill="none" stroke="#8c8c8e" stroke-width="1"/></svg>
<use href="#w" x="1352.6" y="849.0"/>
<text transform="translate(1371.41 871.70) scale(0.7850 1)" font-size="26.3" font-weight="bold" fill="#636466" stroke="#636466" stroke-width="0.6" clip-path="url(#c13)"><tspan dx="-0.79">1</tspan></text>
<text transform="translate(1154.77 917.06) scale(0.8140 1)" font-size="27.3" fill="#6d6e71">Малайзия</text>
<svg x="1278.3" y="894.6" width="44.3" height="29.2" viewBox="0 0 45 30" preserveAspectRatio="none"><rect x="0" y="0" width="45" height="30" fill="#fff"/><rect x="0" y="0" width="45" height="2.14286" fill="#e2202b"/><rect x="0" y="4.28571" width="45" height="2.14286" fill="#e2202b"/><rect x="0" y="8.57143" width="45" height="2.14286" fill="#e2202b"/><rect x="0" y="12.8571" width="45" height="2.14286" fill="#e2202b"/><rect x="0" y="17.1429" width="45" height="2.14286" fill="#e2202b"/><rect x="0" y="21.4286" width="45" height="2.14286" fill="#e2202b"/><rect x="0" y="25.7143" width="45" height="2.14286" fill="#e2202b"/><rect x="0" y="0" width="23.5" height="17.14" fill="#2a2f83"/><circle cx="9.3" cy="8.57" r="6.6" fill="#fcd116"/><circle cx="11.4" cy="8.57" r="5.7" fill="#2a2f83"/><polygon points="20.7,8.57 18.54,9.08 20.26,10.48 18.1,10 19.04,12.01 17.3,10.64 17.28,12.86 16.3,10.87 15.32,12.86 15.3,10.64 13.56,12.01 14.5,10 12.34,10.48 14.06,9.08 11.9,8.57 14.06,8.06 12.34,6.66 14.5,7.14 13.56,5.13 15.3,6.5 15.32,4.28 16.3,6.27 17.28,4.28 17.3,6.5 19.04,5.13 18.1,7.14 20.26,6.66 18.54,8.06" fill="#fcd116"/><rect x=".5" y=".5" width="44" height="29" fill="none" stroke="#8c8c8e" stroke-width="1"/></svg>
<use href="#m" x="1352.6" y="893.6"/>
<text transform="translate(1371.41 916.36) scale(0.7850 1)" font-size="26.3" font-weight="bold" fill="#636466" stroke="#636466" stroke-width="0.6" clip-path="url(#c13)"><tspan dx="-0.79">1</tspan></text>
<text transform="translate(1139.68 961.72) scale(0.8140 1)" font-size="27.3" fill="#6d6e71">Швейцария</text>
<svg x="1278.3" y="939.2" width="44.3" height="29.2" viewBox="0 0 45 30" preserveAspectRatio="none"><rect x="0" y="0" width="45" height="30" fill="#d92a20"/><rect x="19.3" y="5.5" width="6.4" height="19" fill="#fff"/><rect x="13" y="11.8" width="19" height="6.4" fill="#fff"/><rect x=".5" y=".5" width="44" height="29" fill="none" stroke="#8c8c8e" stroke-width="1"/></svg>
<use href="#w" x="1352.6" y="938.3"/>
<text transform="translate(1371.41 961.02) scale(0.7850 1)" font-size="26.3" font-weight="bold" fill="#636466" stroke="#636466" stroke-width="0.6" clip-path="url(#c13)"><tspan dx="-0.79">1</tspan></text>
<text transform="translate(1163.31 1006.38) scale(0.8140 1)" font-size="27.3" fill="#6d6e71">Молдова</text>
<svg x="1278.3" y="983.8" width="44.3" height="29.2" viewBox="0 0 45 30" preserveAspectRatio="none"><rect x="0" y="0" width="15" height="30" fill="#2a3a9c"/><rect x="15" y="0" width="15" height="30" fill="#fbd116"/><rect x="30" y="0" width="15" height="30" fill="#e2202b"/><path d="M20 10.5l2.5-1.8 2.5 1.8v3.5l1.2 2.5-1.7 1.5v2.5l-2 1.5-2-1.5V18l-1.7-1.5 1.2-2.5z" fill="#8a5a2a"/><rect x="21.1" y="14" width="2.8" height="3.8" fill="#c8202f"/><rect x="21.1" y="16" width="2.8" height="1.8" fill="#2a3a9c"/><rect x=".5" y=".5" width="44" height="29" fill="none" stroke="#8c8c8e" stroke-width="1"/></svg>
<use href="#m" x="1352.6" y="983.0"/>
<text transform="translate(1371.41 1005.68) scale(0.7850 1)" font-size="26.3" font-weight="bold" fill="#636466" stroke="#636466" stroke-width="0.6" clip-path="url(#c13)"><tspan dx="-0.79">1</tspan></text>
<text transform="translate(1098.08 1058.50) scale(0.8140 1)" font-size="27.3" fill="#6d6e71">Доминиканская</text>
<text transform="translate(1136.16 1085.20) scale(0.8140 1)" font-size="27.3" fill="#6d6e71">Республика</text>
<svg x="1279.0" y="1044.0" width="44.3" height="29.2" viewBox="0 0 45 30" preserveAspectRatio="none"><rect x="0" y="0" width="45" height="30" fill="#fff"/><rect x="0" y="0" width="19.5" height="12.2" fill="#1f2f65"/><rect x="25.5" y="0" width="19.5" height="12.2" fill="#ce1f2b"/><rect x="0" y="17.8" width="19.5" height="12.2" fill="#ce1f2b"/><rect x="25.5" y="17.8" width="19.5" height="12.2" fill="#1f2f65"/><path d="M20.3 12.5q2.2-1.6 4.4 0v3.3q0 1.7-2.2 2.7-2.2-1-2.2-2.7z" fill="#3a7a4a"/><rect x="21.3" y="13.3" width="2.4" height="3" fill="#ce1f2b"/><rect x="21.3" y="13.3" width="1.2" height="1.5" fill="#1f2f65"/><rect x="22.5" y="14.8" width="1.2" height="1.5" fill="#1f2f65"/><rect x=".5" y=".5" width="44" height="29" fill="none" stroke="#8c8c8e" stroke-width="1"/></svg>
<use href="#w" x="1353.2" y="1043.2"/>
<text transform="translate(1371.41 1065.60) scale(0.7850 1)" font-size="26.3" font-weight="bold" fill="#636466" stroke="#636466" stroke-width="0.6" clip-path="url(#c13)"><tspan dx="-0.79">1</tspan></text>
<text transform="translate(1180.88 1140.37) scale(0.8140 1)" font-size="27.3" fill="#6d6e71">Канада</text>
<svg x="1278.3" y="1117.6" width="44.3" height="29.2" viewBox="0 0 45 30" preserveAspectRatio="none"><rect x="0" y="0" width="45" height="30" fill="#fff"/><rect x="0" y="0" width="11.25" height="30" fill="#ec2437"/><rect x="33.75" y="0" width="11.25" height="30" fill="#ec2437"/><path d="M22.5 5.5l1.8 3.4 2-1-.9 5 2.6-2.7.6 1.6 3-.6-1.3 3.8 1.4.8-4.7 3.9.6 1.9-4.6-.7v4.6h-1v-4.6l-4.6.7.6-1.9-4.7-3.9 1.4-.8-1.3-3.8 3 .6.6-1.6 2.6 2.7-.9-5 2 1z" fill="#ec2437"/><rect x=".5" y=".5" width="44" height="29" fill="none" stroke="#8c8c8e" stroke-width="1"/></svg>
<use href="#m" x="1352.6" y="1116.9"/>
<text transform="translate(1371.41 1139.67) scale(0.7850 1)" font-size="26.3" font-weight="bold" fill="#636466" stroke="#636466" stroke-width="0.6" clip-path="url(#c13)"><tspan dx="-0.79">1</tspan></text>
<text transform="translate(1160.11 1185.03) scale(0.8140 1)" font-size="27.3" fill="#6d6e71">Ботсвана</text>
<svg x="1278.3" y="1162.2" width="44.3" height="29.2" viewBox="0 0 45 30" preserveAspectRatio="none"><rect x="0" y="0" width="45" height="30" fill="#75aadb"/><rect x="0" y="10.8" width="45" height="8.4" fill="#fff"/><rect x="0" y="12.2" width="45" height="5.6" fill="#111"/><rect x=".5" y=".5" width="44" height="29" fill="none" stroke="#8c8c8e" stroke-width="1"/></svg>
<use href="#w" x="1352.6" y="1161.5"/>
<text transform="translate(1371.41 1184.33) scale(0.7850 1)" font-size="26.3" font-weight="bold" fill="#636466" stroke="#636466" stroke-width="0.6" clip-path="url(#c13)"><tspan dx="-0.79">1</tspan></text>
<text transform="translate(1143.26 1229.69) scale(0.8140 1)" font-size="27.3" fill="#6d6e71">Македония</text>
<svg x="1278.3" y="1206.8" width="44.3" height="29.2" viewBox="0 0 45 30" preserveAspectRatio="none"><rect x="0" y="0" width="45" height="30" fill="#d91f26"/><polygon points="22.5,15 0,0 6.5,0" fill="#f8e71c"/><polygon points="22.5,15 0,0 0,0" fill="#f8e71c"/><polygon points="22.5,15 -2,-1 6.7,-1" fill="#f8e71c"/><polygon points="22.5,15 47,-1 38.3,-1" fill="#f8e71c"/><polygon points="22.5,15 -2,31 6.7,31" fill="#f8e71c"/><polygon points="22.5,15 47,31 38.3,31" fill="#f8e71c"/><polygon points="22.5,15 18.5,-1 26.5,-1" fill="#f8e71c"/><polygon points="22.5,15 18.5,31 26.5,31" fill="#f8e71c"/><polygon points="22.5,15 -1,11.8 -1,18.2" fill="#f8e71c"/><polygon points="22.5,15 46,11.8 46,18.2" fill="#f8e71c"/><circle cx="22.5" cy="15" r="5.2" fill="#d91f26"/><circle cx="22.5" cy="15" r="4" fill="#f8e71c"/><rect x=".5" y=".5" width="44" height="29" fill="none" stroke="#8c8c8e" stroke-width="1"/></svg>
<use href="#w" x="1352.6" y="1206.2"/>
<text transform="translate(1371.41 1228.99) scale(0.7850 1)" font-size="26.3" font-weight="bold" fill="#636466" stroke="#636466" stroke-width="0.6" clip-path="url(#c13)"><tspan dx="-0.79">1</tspan></text>
<text transform="translate(1170.23 1274.35) scale(0.8140 1)" font-size="27.3" fill="#6d6e71">Бахрейн</text>
<svg x="1278.3" y="1251.4" width="44.3" height="29.2" viewBox="0 0 45 30" preserveAspectRatio="none"><rect x="0" y="0" width="45" height="30" fill="#d0202b"/><path d="M0 0H11L15.5 3L11 6L15.5 9L11 12L15.5 15L11 18L15.5 21L11 24L15.5 27L11 30H0z" fill="#fff"/><rect x=".5" y=".5" width="44" height="29" fill="none" stroke="#8c8c8e" stroke-width="1"/></svg>
<use href="#m" x="1352.6" y="1250.8"/>
<text transform="translate(1371.41 1273.65) scale(0.7850 1)" font-size="26.3" font-weight="bold" fill="#636466" stroke="#636466" stroke-width="0.6" clip-path="url(#c13)"><tspan dx="-0.79">1</tspan></text>
<text transform="translate(1087.61 1319.01) scale(0.8140 1)" font-size="27.3" fill="#6d6e71">Великобритания</text>
<svg x="1278.3" y="1296.0" width="44.3" height="29.2" viewBox="0 0 45 30" preserveAspectRatio="none"><rect x="0" y="0" width="45" height="30" fill="#233a8e"/><path d="M0 0L45 30M45 0L0 30" stroke="#fff" stroke-width="5.5"/><path d="M0 0L45 30M45 0L0 30" stroke="#d8232e" stroke-width="1.7"/><path d="M22.5 0V30M0 15H45" stroke="#fff" stroke-width="8.5"/><path d="M22.5 0V30M0 15H45" stroke="#d8232e" stroke-width="4.6"/><rect x=".5" y=".5" width="44" height="29" fill="none" stroke="#8c8c8e" stroke-width="1"/></svg>
<use href="#m" x="1352.6" y="1295.5"/>
<text transform="translate(1371.41 1318.31) scale(0.7850 1)" font-size="26.3" font-weight="bold" fill="#636466" stroke="#636466" stroke-width="0.6" clip-path="url(#c13)"><tspan dx="-0.79">1</tspan></text>
<text transform="translate(1143.05 1363.68) scale(0.8140 1)" font-size="27.3" fill="#6d6e71">Шри Ланка</text>
<svg x="1278.3" y="1344.5" width="44.3" height="21.8" viewBox="0 0 45 30" preserveAspectRatio="none"><rect x="0" y="0" width="45" height="30" fill="#f7b718"/><rect x="2.3" y="2.3" width="5.2" height="25.4" fill="#0f5b4c"/><rect x="7.5" y="2.3" width="5.2" height="25.4" fill="#f37b21"/><rect x="15.5" y="2.3" width="27.2" height="25.4" fill="#8d1b3d"/><path d="M21 19.5q-1-5 2.5-7.5l1-3 2.5 1.5 4.5-.5 1.5 2.5 2.5-3.5 1 1-2 4.5.5 6.5h-2l-.8-4-3.5.5v3.5h-2l-.6-3-2 1.5v2h-2z" fill="#f7b718"/><circle cx="17.3" cy="4.2" r="0.8" fill="#f7b718"/><circle cx="40.9" cy="4.2" r="0.8" fill="#f7b718"/><circle cx="17.3" cy="25.8" r="0.8" fill="#f7b718"/><circle cx="40.9" cy="25.8" r="0.8" fill="#f7b718"/><rect x=".5" y=".5" width="44" height="29" fill="none" stroke="#8c8c8e" stroke-width="1"/></svg>
<use href="#w" x="1352.6" y="1340.2"/>
<text transform="translate(1371.41 1362.98) scale(0.7850 1)" font-size="26.3" font-weight="bold" fill="#636466" stroke="#636466" stroke-width="0.6" clip-path="url(#c13)"><tspan dx="-0.79">1</tspan></text>
<text transform="translate(1158.64 1408.34) scale(0.8140 1)" font-size="27.3" fill="#6d6e71">Германия</text>
<svg x="1278.3" y="1385.2" width="44.3" height="29.2" viewBox="0 0 45 30" preserveAspectRatio="none"><rect x="0" y="0" width="45" height="10" fill="#111"/><rect x="0" y="10" width="45" height="10" fill="#ed1c24"/><rect x="0" y="20" width="45" height="10" fill="#ffce05"/><rect x=".5" y=".5" width="44" height="29" fill="none" stroke="#8c8c8e" stroke-width="1"/></svg>
<use href="#m" x="1352.6" y="1384.8"/>
<text transform="translate(1371.41 1407.64) scale(0.7850 1)" font-size="26.3" font-weight="bold" fill="#636466" stroke="#636466" stroke-width="0.6" clip-path="url(#c13)"><tspan dx="-0.79">1</tspan></text>
<text transform="translate(1155.68 1453.00) scale(0.8140 1)" font-size="27.3" fill="#6d6e71">Ирландия</text>
<svg x="1278.3" y="1429.8" width="44.3" height="29.2" viewBox="0 0 45 30" preserveAspectRatio="none"><rect x="0" y="0" width="15" height="30" fill="#119c4b"/><rect x="15" y="0" width="15" height="30" fill="#fff"/><rect x="30" y="0" width="15" height="30" fill="#f47b20"/><rect x=".5" y=".5" width="44" height="29" fill="none" stroke="#8c8c8e" stroke-width="1"/></svg>
<use href="#m" x="1352.6" y="1429.4"/>
<text transform="translate(1371.41 1452.30) scale(0.7850 1)" font-size="26.3" font-weight="bold" fill="#636466" stroke="#636466" stroke-width="0.6" clip-path="url(#c13)"><tspan dx="-0.79">1</tspan></text>
<text transform="translate(1197.76 1497.52) scale(0.8140 1)" font-size="27.3" fill="#6d6e71">Китай</text>
<svg x="1278.3" y="1474.4" width="44.3" height="29.2" viewBox="0 0 45 30" preserveAspectRatio="none"><rect x="0" y="0" width="45" height="30" fill="#de2b26"/><polygon points="7.5,2.7 8.58,6.02 12.07,6.02 9.24,8.07 10.32,11.38 7.5,9.33 4.68,11.38 5.76,8.07 2.93,6.02 6.42,6.02" fill="#fde21c"/><polygon points="15.5,1.79 15.29,2.78 16.17,3.29 15.16,3.4 14.95,4.39 14.53,3.46 13.52,3.57 14.28,2.89 13.86,1.96 14.74,2.47" fill="#fde21c"/><polygon points="18.71,5.3 18.03,6.06 18.54,6.94 17.61,6.52 16.93,7.28 17.04,6.27 16.11,5.85 17.1,5.64 17.21,4.63 17.72,5.51" fill="#fde21c"/><polygon points="17.5,9.1 17.81,10.07 18.83,10.07 18.01,10.67 18.32,11.63 17.5,11.03 16.68,11.63 16.99,10.67 16.17,10.07 17.19,10.07" fill="#fde21c"/><polygon points="15.5,12.29 15.29,13.28 16.17,13.79 15.16,13.9 14.95,14.89 14.53,13.96 13.52,14.07 14.28,13.39 13.86,12.46 14.74,12.97" fill="#fde21c"/><rect x=".5" y=".5" width="44" height="29" fill="none" stroke="#8c8c8e" stroke-width="1"/></svg>
<use href="#w" x="1352.6" y="1474.1"/>
<text transform="translate(1371.41 1496.82) scale(0.7850 1)" font-size="26.3" font-weight="bold" fill="#636466" stroke="#636466" stroke-width="0.6" clip-path="url(#c13)"><tspan dx="-0.79">1</tspan></text>
<text transform="translate(1192.99 1542.04) scale(0.8140 1)" font-size="27.3" fill="#6d6e71">Сирия</text>
<svg x="1278.3" y="1519.0" width="44.3" height="29.2" viewBox="0 0 45 30" preserveAspectRatio="none"><rect x="0" y="0" width="45" height="10" fill="#ce1f2b"/><rect x="0" y="10" width="45" height="10" fill="#fff"/><rect x="0" y="20" width="45" height="10" fill="#111"/><polygon points="13.5,11.9 14.24,14.18 16.64,14.18 14.7,15.59 15.44,17.87 13.5,16.46 11.56,17.87 12.3,15.59 10.36,14.18 12.76,14.18" fill="#0f8a43"/><polygon points="31.5,11.9 32.24,14.18 34.64,14.18 32.7,15.59 33.44,17.87 31.5,16.46 29.56,17.87 30.3,15.59 28.36,14.18 30.76,14.18" fill="#0f8a43"/><rect x=".5" y=".5" width="44" height="29" fill="none" stroke="#8c8c8e" stroke-width="1"/></svg>
<use href="#w" x="1352.6" y="1518.8"/>
<text transform="translate(1371.41 1541.34) scale(0.7850 1)" font-size="26.3" font-weight="bold" fill="#636466" stroke="#636466" stroke-width="0.6" clip-path="url(#c13)"><tspan dx="-0.79">1</tspan></text>
<text transform="translate(1146.68 1586.55) scale(0.8140 1)" font-size="27.3" fill="#6d6e71">Гватемала</text>
<svg x="1278.3" y="1563.6" width="44.3" height="29.2" viewBox="0 0 45 30" preserveAspectRatio="none"><rect x="0" y="0" width="15" height="30" fill="#8ac7e5"/><rect x="15" y="0" width="15" height="30" fill="#fff"/><rect x="30" y="0" width="15" height="30" fill="#8ac7e5"/><path d="M20.3 12q-2 3.5 1.2 6.5M24.7 12q2 3.5-1.2 6.5" stroke="#5f9a48" stroke-width="1.3" fill="none"/><rect x="21.3" y="12.5" width="2.4" height="4" fill="#e6dcb4"/><path d="M20.5 18.5l4-6.5M24.5 18.5l-4-6.5" stroke="#8a7a5a" stroke-width=".5"/><rect x=".5" y=".5" width="44" height="29" fill="none" stroke="#8c8c8e" stroke-width="1"/></svg>
<use href="#w" x="1352.6" y="1563.4"/>
<text transform="translate(1371.41 1585.85) scale(0.7850 1)" font-size="26.3" font-weight="bold" fill="#636466" stroke="#636466" stroke-width="0.6" clip-path="url(#c13)"><tspan dx="-0.79">1</tspan></text>
<text transform="translate(1210.21 1631.07) scale(0.8140 1)" font-size="27.3" fill="#6d6e71">ОАЭ</text>
<svg x="1278.3" y="1608.2" width="44.3" height="29.2" viewBox="0 0 45 30" preserveAspectRatio="none"><rect x="0" y="0" width="45" height="10" fill="#0f7a3c"/><rect x="0" y="10" width="45" height="10" fill="#fff"/><rect x="0" y="20" width="45" height="10" fill="#111"/><rect x="0" y="0" width="10.5" height="30" fill="#ee1c23"/><rect x=".5" y=".5" width="44" height="29" fill="none" stroke="#8c8c8e" stroke-width="1"/></svg>
<use href="#m" x="1352.6" y="1608.0"/>
<text transform="translate(1371.41 1630.37) scale(0.7850 1)" font-size="26.3" font-weight="bold" fill="#636466" stroke="#636466" stroke-width="0.6" clip-path="url(#c13)"><tspan dx="-0.79">1</tspan></text>
<text transform="translate(1197.49 1675.59) scale(0.8140 1)" font-size="27.3" fill="#6d6e71">Катар</text>
<svg x="1278.3" y="1652.8" width="44.3" height="29.2" viewBox="0 0 45 30" preserveAspectRatio="none"><rect x="0" y="0" width="45" height="30" fill="#6f1a3d"/><path d="M0 0H14.5L19.5 1.66667L14.5 3.33333L19.5 5L14.5 6.66667L19.5 8.33333L14.5 10L19.5 11.6667L14.5 13.3333L19.5 15L14.5 16.6667L19.5 18.3333L14.5 20L19.5 21.6667L14.5 23.3333L19.5 25L14.5 26.6667L19.5 28.3333L14.5 30H0z" fill="#fff"/><rect x=".5" y=".5" width="44" height="29" fill="none" stroke="#8c8c8e" stroke-width="1"/></svg>
<use href="#m" x="1352.6" y="1652.7"/>
<text transform="translate(1371.41 1674.89) scale(0.7850 1)" font-size="26.3" font-weight="bold" fill="#636466" stroke="#636466" stroke-width="0.6" clip-path="url(#c13)"><tspan dx="-0.79">1</tspan></text>
<text transform="translate(1177.05 1720.11) scale(0.8140 1)" font-size="27.3" fill="#6d6e71">Уругвай</text>
<svg x="1278.3" y="1697.4" width="44.3" height="29.2" viewBox="0 0 45 30" preserveAspectRatio="none"><rect x="0" y="0" width="45" height="30" fill="#2a3fa6"/><rect x="0" y="0" width="45" height="3.33333" fill="#fff"/><rect x="0" y="6.66667" width="45" height="3.33333" fill="#fff"/><rect x="0" y="13.3333" width="45" height="3.33333" fill="#fff"/><rect x="0" y="20" width="45" height="3.33333" fill="#fff"/><rect x="0" y="26.6667" width="45" height="3.33333" fill="#fff"/><rect x="0" y="0" width="16.67" height="16.67" fill="#fff"/><circle cx="8.3" cy="8.3" r="3.1" fill="#e8b92a"/><path d="M11.3 8.3L13.9 8.3M11.07 9.45L13.47 10.44M10.42 10.42L12.26 12.26M9.45 11.07L10.44 13.47M8.3 11.3L8.3 13.9M7.15 11.07L6.16 13.47M6.18 10.42L4.34 12.26M5.53 9.45L3.13 10.44M5.3 8.3L2.7 8.3M5.53 7.15L3.13 6.16M6.18 6.18L4.34 4.34M7.15 5.53L6.16 3.13M8.3 5.3L8.3 2.7M9.45 5.53L10.44 3.13M10.42 6.18L12.26 4.34M11.07 7.15L13.47 6.16" stroke="#e8b92a" stroke-width=".8"/><rect x=".5" y=".5" width="44" height="29" fill="none" stroke="#8c8c8e" stroke-width="1"/></svg>
<use href="#m" x="1352.6" y="1697.3"/>
<text transform="translate(1371.41 1719.41) scale(0.7850 1)" font-size="26.3" font-weight="bold" fill="#636466" stroke="#636466" stroke-width="0.6" clip-path="url(#c13)"><tspan dx="-0.79">1</tspan></text>
<text transform="translate(1173.90 1764.63) scale(0.8140 1)" font-size="27.3" fill="#6d6e71">Венгрия</text>
<svg x="1278.3" y="1742.0" width="44.3" height="29.2" viewBox="0 0 45 30" preserveAspectRatio="none"><rect x="0" y="0" width="45" height="10" fill="#ce1f2b"/><rect x="0" y="10" width="45" height="10" fill="#fff"/><rect x="0" y="20" width="45" height="10" fill="#0f8a50"/><rect x=".5" y=".5" width="44" height="29" fill="none" stroke="#8c8c8e" stroke-width="1"/></svg>
<use href="#m" x="1352.6" y="1742.0"/>
<text transform="translate(1371.41 1763.93) scale(0.7850 1)" font-size="26.3" font-weight="bold" fill="#636466" stroke="#636466" stroke-width="0.6" clip-path="url(#c13)"><tspan dx="-0.79">1</tspan></text>
<text transform="translate(1174.96 1809.15) scale(0.8140 1)" font-size="27.3" fill="#6d6e71">Бельгия</text>
<svg x="1278.3" y="1786.6" width="44.3" height="29.2" viewBox="0 0 45 30" preserveAspectRatio="none"><rect x="0" y="0" width="15" height="30" fill="#111"/><rect x="15" y="0" width="15" height="30" fill="#fadb3a"/><rect x="30" y="0" width="15" height="30" fill="#ed2939"/><rect x=".5" y=".5" width="44" height="29" fill="none" stroke="#8c8c8e" stroke-width="1"/></svg>
<use href="#m" x="1352.6" y="1786.7"/>
<text transform="translate(1371.41 1808.45) scale(0.7850 1)" font-size="26.3" font-weight="bold" fill="#636466" stroke="#636466" stroke-width="0.6" clip-path="url(#c13)"><tspan dx="-0.79">1</tspan></text>
<text transform="translate(1169.25 1853.66) scale(0.8140 1)" font-size="27.3" fill="#6d6e71">Камерун</text>
<svg x="1278.3" y="1831.2" width="44.3" height="29.2" viewBox="0 0 45 30" preserveAspectRatio="none"><rect x="0" y="0" width="15" height="30" fill="#0f7a5c"/><rect x="15" y="0" width="15" height="30" fill="#ce1f2b"/><rect x="30" y="0" width="15" height="30" fill="#fcd116"/><polygon points="22.5,10.9 23.49,13.94 26.68,13.94 24.1,15.82 25.09,18.86 22.5,16.98 19.91,18.86 20.9,15.82 18.32,13.94 21.51,13.94" fill="#fcd116"/><rect x=".5" y=".5" width="44" height="29" fill="none" stroke="#8c8c8e" stroke-width="1"/></svg>
<use href="#w" x="1352.6" y="1831.3"/>
<text transform="translate(1371.41 1852.96) scale(0.7850 1)" font-size="26.3" font-weight="bold" fill="#636466" stroke="#636466" stroke-width="0.6" clip-path="url(#c13)"><tspan dx="-0.79">1</tspan></text>
<text transform="translate(1143.05 1898.18) scale(0.8140 1)" font-size="27.3" fill="#6d6e71">Бангладеш</text>
<svg x="1278.3" y="1875.8" width="44.3" height="29.2" viewBox="0 0 45 30" preserveAspectRatio="none"><rect x="0" y="0" width="45" height="30" fill="#0f6a4c"/><circle cx="19.5" cy="15" r="9.3" fill="#ee2a42"/><rect x=".5" y=".5" width="44" height="29" fill="none" stroke="#8c8c8e" stroke-width="1"/></svg>
<use href="#m" x="1352.6" y="1875.9"/>
<text transform="translate(1371.41 1897.48) scale(0.7850 1)" font-size="26.3" font-weight="bold" fill="#636466" stroke="#636466" stroke-width="0.6" clip-path="url(#c13)"><tspan dx="-0.79">1</tspan></text>
<text transform="translate(1171.58 1942.70) scale(0.8140 1)" font-size="27.3" fill="#6d6e71">Сенегал</text>
<svg x="1278.3" y="1918.9" width="44.3" height="29.2" viewBox="0 0 45 30" preserveAspectRatio="none"><rect x="0" y="0" width="15" height="30" fill="#0f8a3c"/><rect x="15" y="0" width="15" height="30" fill="#f7e83a"/><rect x="30" y="0" width="15" height="30" fill="#e1202b"/><polygon points="22.5,10.9 23.49,13.94 26.68,13.94 24.1,15.82 25.09,18.86 22.5,16.98 19.91,18.86 20.9,15.82 18.32,13.94 21.51,13.94" fill="#0f8a3c"/><rect x=".5" y=".5" width="44" height="29" fill="none" stroke="#8c8c8e" stroke-width="1"/></svg>
<use href="#m" x="1352.6" y="1920.6"/>
<text transform="translate(1371.41 1942.00) scale(0.7850 1)" font-size="26.3" font-weight="bold" fill="#636466" stroke="#636466" stroke-width="0.6" clip-path="url(#c13)"><tspan dx="-0.79">1</tspan></text>
<text transform="translate(94.82 2056.00) scale(0.8268 1)" font-size="20.3" fill="#6d6e71" stroke="#6d6e71" stroke-width="0.35" stroke-linejoin="round">Источник: Международная ассоциация легкоатлетических федераций (IAAF) – отчет об отстраненных атлетах от 10 мая 2016</text>
<g><circle cx="1226.3" cy="2050.4" r="21.6" fill="none" stroke="#4d4d4f" stroke-width="9.8"/><path d="M1197 2041.9L1209.9 2049.1V2051.9L1197 2058.9ZM1255.6 2041.9L1242.7 2049.1V2051.9L1255.6 2058.9Z" fill="#fff"/><path d="M1217.9 2038.8L1238 2050.4L1217.9 2062.2L1225.1 2050.4Z" fill="#4d4d4f"/></g>
<text transform="translate(1255.78 2048.70) scale(0.8152 1)" font-size="34.8" font-weight="bold" fill="#4d4d4f" stroke="#4d4d4f" stroke-width="1.5" stroke-linejoin="round">настоящее</text>
<text transform="translate(1255.71 2073.00) scale(0.8704 1)" font-size="34.8" font-weight="bold" fill="#4d4d4f" stroke="#4d4d4f" stroke-width="1.5" stroke-linejoin="round">время</text>
</svg></body></html>
